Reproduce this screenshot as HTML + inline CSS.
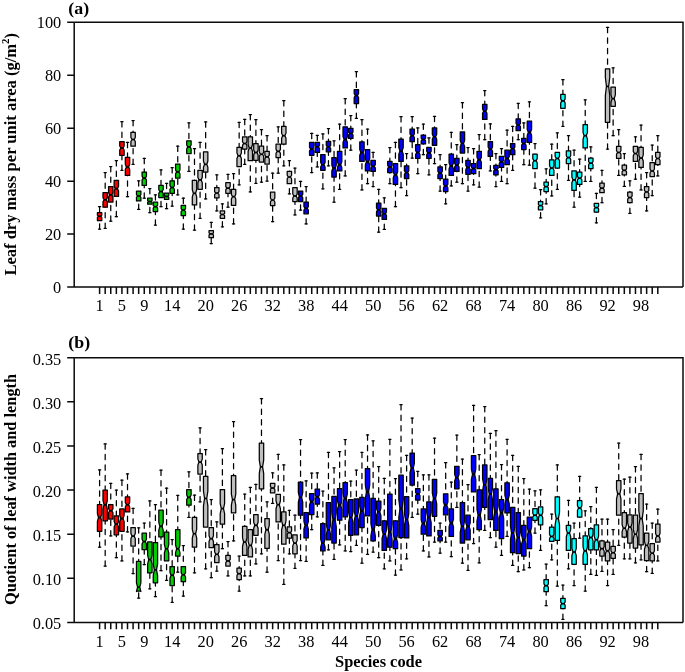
<!DOCTYPE html>
<html lang="en"><head><meta charset="utf-8"><title>Boxplots</title>
<style>html,body{margin:0;padding:0;background:#fff}body{width:685px;height:672px;overflow:hidden}svg{display:block}</style>
</head><body>
<svg width="685" height="672" viewBox="0 0 685 672">
<style>
.w{stroke:#000;stroke-width:1.25;stroke-dasharray:5.25 5.25;stroke-linecap:round;fill:none}
.c{stroke:#000;stroke-width:1.25;stroke-linecap:round;fill:none}
.b{stroke:#000;stroke-width:1.25;stroke-linejoin:round}
.m{stroke:#000;stroke-width:1.7;stroke-linecap:butt;fill:none}
.bx{stroke:#0a0a0a;stroke-width:1.5;fill:none}
.ax{stroke:#0a0a0a;stroke-width:1.5;fill:none;stroke-linecap:butt}
.t{font-family:"Liberation Serif",serif;font-size:16.8px;fill:#000}
.tb{font-family:"Liberation Serif",serif;font-size:16.8px;font-weight:bold;fill:#000}
</style>
<rect width="685" height="672" fill="#fff"/>
<g id="pa">
<path class="w" d="M99.6 206.7V212.72M99.6 229.02V220.54"/>
<path class="c" d="M98.5 206.7H100.7M98.5 229.02H100.7"/>
<path class="b" fill="#ff0000" d="M97.4 212.72L101.8 212.72L101.8 215.16L100.7 216.29L101.8 217.43L101.8 220.54L97.4 220.54L97.4 217.43L98.5 216.29L97.4 215.16Z"/>
<path class="m" d="M98.5 216.29H100.7"/>
<path class="w" d="M105.18 172.54V192.63M105.18 228.35V207.14"/>
<path class="c" d="M104.08 172.54H106.28M104.08 228.35H106.28"/>
<path class="b" fill="#ff0000" d="M102.98 192.63L107.38 192.63L107.38 197.67L106.28 199.78L107.38 201.88L107.38 207.14L102.98 207.14L102.98 201.88L104.08 199.78L102.98 197.67Z"/>
<path class="m" d="M104.08 199.78H106.28"/>
<path class="w" d="M110.76 166.52V186.61M110.76 221.21V202.01"/>
<path class="c" d="M109.66 166.52H111.86M109.66 221.21H111.86"/>
<path class="b" fill="#ff0000" d="M108.56 186.61L112.96 186.61L112.96 192.63L111.86 194.87L112.96 197.1L112.96 202.01L108.56 202.01L108.56 197.1L109.66 194.87L108.56 192.63Z"/>
<path class="m" d="M109.66 194.87H111.86"/>
<path class="w" d="M116.35 160.71V180.36M116.35 216.74V196.43"/>
<path class="c" d="M115.25 160.71H117.45M115.25 216.74H117.45"/>
<path class="b" fill="#ff0000" d="M114.15 180.36L118.55 180.36L118.55 186.29L117.45 188.62L118.55 190.95L118.55 196.43L114.15 196.43L114.15 190.95L115.25 188.62L114.15 186.29Z"/>
<path class="m" d="M115.25 188.62H117.45"/>
<path class="w" d="M121.93 121.65V141.74M121.93 170.31V155.36"/>
<path class="c" d="M120.83 121.65H123.03M120.83 170.31H123.03"/>
<path class="b" fill="#ff0000" d="M119.73 141.74L124.13 141.74L124.13 146.02L123.03 147.99L124.13 149.97L124.13 155.36L119.73 155.36L119.73 149.97L120.83 147.99L119.73 146.02Z"/>
<path class="m" d="M120.83 147.99H123.03"/>
<path class="w" d="M127.51 142.41V157.37M127.51 196.65V175.45"/>
<path class="c" d="M126.41 142.41H128.61M126.41 196.65H128.61"/>
<path class="b" fill="#ff0000" d="M125.31 157.37L129.71 157.37L129.71 164.34L128.61 166.96L129.71 169.59L129.71 175.45L125.31 175.45L125.31 169.59L126.41 166.96L125.31 164.34Z"/>
<path class="m" d="M126.41 166.96H128.61"/>
<path class="w" d="M133.09 120.54V132.37M133.09 164.29V146.21"/>
<path class="c" d="M131.99 120.54H134.19M131.99 164.29H134.19"/>
<path class="b" fill="#bebebe" d="M130.89 132.37L135.29 132.37L135.29 137.5L134.19 139.51L135.29 141.52L135.29 146.21L130.89 146.21L130.89 141.52L131.99 139.51L130.89 137.5Z"/>
<path class="m" d="M131.99 139.51H134.19"/>
<path class="w" d="M138.67 180.8V191.07M138.67 209.38V200.89"/>
<path class="c" d="M137.57 180.8H139.77M137.57 209.38H139.77"/>
<path class="b" fill="#00cd00" d="M136.47 191.07L140.87 191.07L140.87 194.56L139.77 195.98L140.87 197.41L140.87 200.89L136.47 200.89L136.47 197.41L137.57 195.98L136.47 194.56Z"/>
<path class="m" d="M137.57 195.98H139.77"/>
<path class="w" d="M144.26 158.48V172.1M144.26 198.21V185.49"/>
<path class="c" d="M143.16 158.48H145.36M143.16 198.21H145.36"/>
<path class="b" fill="#00cd00" d="M142.06 172.1L146.46 172.1L146.46 176.18L145.36 178.12L146.46 180.07L146.46 185.49L142.06 185.49L142.06 180.07L143.16 178.12L142.06 176.18Z"/>
<path class="m" d="M143.16 178.12H145.36"/>
<path class="w" d="M149.84 188.62V198.21M149.84 212.72V204.24"/>
<path class="c" d="M148.74 188.62H150.94M148.74 212.72H150.94"/>
<path class="b" fill="#00cd00" d="M147.64 198.21L152.04 198.21L152.04 200.69L150.94 201.56L152.04 202.44L152.04 204.24L147.64 204.24L147.64 202.44L148.74 201.56L147.64 200.69Z"/>
<path class="m" d="M148.74 201.56H150.94"/>
<path class="w" d="M155.42 194.87V202.23M155.42 225V211.61"/>
<path class="c" d="M154.32 194.87H156.52M154.32 225H156.52"/>
<path class="b" fill="#00cd00" d="M153.22 202.23L157.62 202.23L157.62 205.34L156.52 206.7L157.62 208.06L157.62 211.61L153.22 211.61L153.22 208.06L154.32 206.7L153.22 205.34Z"/>
<path class="m" d="M154.32 206.7H156.52"/>
<path class="w" d="M161 169.87V185.27M161 206.7V197.54"/>
<path class="c" d="M159.9 169.87H162.1M159.9 206.7H162.1"/>
<path class="b" fill="#00cd00" d="M158.8 185.27L163.2 185.27L163.2 189.74L162.1 191.52L163.2 193.3L163.2 197.54L158.8 197.54L158.8 193.3L159.9 191.52L158.8 189.74Z"/>
<path class="m" d="M159.9 191.52H162.1"/>
<path class="w" d="M166.58 183.26V193.08M166.58 208.71V199.33"/>
<path class="c" d="M165.48 183.26H167.68M165.48 208.71H167.68"/>
<path class="b" fill="#00cd00" d="M164.38 193.08L168.78 193.08L168.78 195.52L167.68 196.43L168.78 197.33L168.78 199.33L164.38 199.33L164.38 197.33L165.48 196.43L164.38 195.52Z"/>
<path class="m" d="M165.48 196.43H167.68"/>
<path class="w" d="M172.17 167.63V180.8M172.17 206.03V193.3"/>
<path class="c" d="M171.07 167.63H173.27M171.07 206.03H173.27"/>
<path class="b" fill="#00cd00" d="M169.97 180.8L174.37 180.8L174.37 185.69L173.27 187.5L174.37 189.31L174.37 193.3L169.97 193.3L169.97 189.31L171.07 187.5L169.97 185.69Z"/>
<path class="m" d="M171.07 187.5H173.27"/>
<path class="w" d="M177.75 146.21V164.06M177.75 194.87V178.12"/>
<path class="c" d="M176.65 146.21H178.85M176.65 194.87H178.85"/>
<path class="b" fill="#00cd00" d="M175.55 164.06L179.95 164.06L179.95 169.84L178.85 171.88L179.95 173.91L179.95 178.12L175.55 178.12L175.55 173.91L176.65 171.88L175.55 169.84Z"/>
<path class="m" d="M176.65 171.88H178.85"/>
<path class="w" d="M183.33 198.21V205.36M183.33 229.02V215.62"/>
<path class="c" d="M182.23 198.21H184.43M182.23 229.02H184.43"/>
<path class="b" fill="#00cd00" d="M181.13 205.36L185.53 205.36L185.53 208.56L184.43 210.04L185.53 211.53L185.53 215.62L181.13 215.62L181.13 211.53L182.23 210.04L181.13 208.56Z"/>
<path class="m" d="M182.23 210.04H184.43"/>
<path class="w" d="M188.91 122.77V140.85M188.91 171.43V153.57"/>
<path class="c" d="M187.81 122.77H190.01M187.81 171.43H190.01"/>
<path class="b" fill="#00cd00" d="M186.71 140.85L191.11 140.85L191.11 145.03L190.01 146.88L191.11 148.72L191.11 153.57L186.71 153.57L186.71 148.72L187.81 146.88L186.71 145.03Z"/>
<path class="m" d="M187.81 146.88H190.01"/>
<path class="w" d="M194.49 148.66V180.36M194.49 230.13V204.91"/>
<path class="c" d="M193.39 148.66H195.59M193.39 230.13H195.59"/>
<path class="b" fill="#bebebe" d="M192.29 180.36L196.69 180.36L196.69 189.74L195.59 193.3L196.69 196.86L196.69 204.91L192.29 204.91L192.29 196.86L193.39 193.3L192.29 189.74Z"/>
<path class="m" d="M193.39 193.3H195.59"/>
<path class="w" d="M200.08 142.41V170.31M200.08 218.3V189.29"/>
<path class="c" d="M198.98 142.41H201.18M198.98 218.3H201.18"/>
<path class="b" fill="#bebebe" d="M197.88 170.31L202.28 170.31L202.28 177.16L201.18 179.91L202.28 182.66L202.28 189.29L197.88 189.29L197.88 182.66L198.98 179.91L197.88 177.16Z"/>
<path class="m" d="M198.98 179.91H201.18"/>
<path class="w" d="M205.66 121.88V151.79M205.66 198.88V172.1"/>
<path class="c" d="M204.56 121.88H206.76M204.56 198.88H206.76"/>
<path class="b" fill="#bebebe" d="M203.46 151.79L207.86 151.79L207.86 161.34L206.76 164.29L207.86 167.23L207.86 172.1L203.46 172.1L203.46 167.23L204.56 164.29L203.46 161.34Z"/>
<path class="m" d="M204.56 164.29H206.76"/>
<path class="w" d="M211.24 222.32V230.58M211.24 243.53V237.72"/>
<path class="c" d="M210.14 222.32H212.34M210.14 243.53H212.34"/>
<path class="b" fill="#bebebe" d="M209.04 230.58L213.44 230.58L213.44 232.89L212.34 233.93L213.44 234.96L213.44 237.72L209.04 237.72L209.04 234.96L210.14 233.93L209.04 232.89Z"/>
<path class="m" d="M210.14 233.93H212.34"/>
<path class="w" d="M216.82 174.78V187.5M216.82 210.94V197.77"/>
<path class="c" d="M215.72 174.78H217.92M215.72 210.94H217.92"/>
<path class="b" fill="#bebebe" d="M214.62 187.5L219.02 187.5L219.02 191.59L217.92 193.08L219.02 194.57L219.02 197.77L214.62 197.77L214.62 194.57L215.72 193.08L214.62 191.59Z"/>
<path class="m" d="M215.72 193.08H217.92"/>
<path class="w" d="M222.4 203.79V210.94M222.4 226.79V218.3"/>
<path class="c" d="M221.3 203.79H223.5M221.3 226.79H223.5"/>
<path class="b" fill="#bebebe" d="M220.2 210.94L224.6 210.94L224.6 213.44L223.5 214.51L224.6 215.58L224.6 218.3L220.2 218.3L220.2 215.58L221.3 214.51L220.2 213.44Z"/>
<path class="m" d="M221.3 214.51H223.5"/>
<path class="w" d="M227.99 174.33V182.59M227.99 207.14V193.3"/>
<path class="c" d="M226.89 174.33H229.09M226.89 207.14H229.09"/>
<path class="b" fill="#bebebe" d="M225.79 182.59L230.19 182.59L230.19 186.62L229.09 188.17L230.19 189.72L230.19 193.3L225.79 193.3L225.79 189.72L226.89 188.17L225.79 186.62Z"/>
<path class="m" d="M226.89 188.17H229.09"/>
<path class="w" d="M233.57 173.66V189.29M233.57 223.88V205.36"/>
<path class="c" d="M232.47 173.66H234.67M232.47 223.88H234.67"/>
<path class="b" fill="#bebebe" d="M231.37 189.29L235.77 189.29L235.77 194.32L234.67 196.65L235.77 198.98L235.77 205.36L231.37 205.36L231.37 198.98L232.47 196.65L231.37 194.32Z"/>
<path class="m" d="M232.47 196.65H234.67"/>
<path class="w" d="M239.15 122.32V147.32M239.15 184.82V166.52"/>
<path class="c" d="M238.05 122.32H240.25M238.05 184.82H240.25"/>
<path class="b" fill="#bebebe" d="M236.95 147.32L241.35 147.32L241.35 153.02L240.25 155.8L241.35 158.59L241.35 166.52L236.95 166.52L236.95 158.59L238.05 155.8L236.95 153.02Z"/>
<path class="m" d="M238.05 155.8H240.25"/>
<path class="w" d="M244.73 119.42V136.83M244.73 164.29V149.11"/>
<path class="c" d="M243.63 119.42H245.83M243.63 164.29H245.83"/>
<path class="b" fill="#bebebe" d="M242.53 136.83L246.93 136.83L246.93 141.75L245.83 143.53L246.93 145.31L246.93 149.11L242.53 149.11L242.53 145.31L243.63 143.53L242.53 141.75Z"/>
<path class="m" d="M243.63 143.53H245.83"/>
<path class="w" d="M250.31 114.51V136.83M250.31 191.96V160.71"/>
<path class="c" d="M249.21 114.51H251.41M249.21 191.96H251.41"/>
<path class="b" fill="#bebebe" d="M248.11 136.83L252.51 136.83L252.51 144.53L251.41 147.99L252.51 151.45L252.51 160.71L248.11 160.71L248.11 151.45L249.21 147.99L248.11 144.53Z"/>
<path class="m" d="M249.21 147.99H251.41"/>
<path class="w" d="M255.9 119.64V143.53M255.9 183.26V160.27"/>
<path class="c" d="M254.8 119.64H257M254.8 183.26H257"/>
<path class="b" fill="#bebebe" d="M253.7 143.53L258.1 143.53L258.1 150.03L257 152.46L258.1 154.88L258.1 160.27L253.7 160.27L253.7 154.88L254.8 152.46L253.7 150.03Z"/>
<path class="m" d="M254.8 152.46H257"/>
<path class="w" d="M261.48 129.69V146.21M261.48 182.14V162.05"/>
<path class="c" d="M260.38 129.69H262.58M260.38 182.14H262.58"/>
<path class="b" fill="#bebebe" d="M259.28 146.21L263.68 146.21L263.68 151.94L262.58 154.24L263.68 156.54L263.68 162.05L259.28 162.05L259.28 156.54L260.38 154.24L259.28 151.94Z"/>
<path class="m" d="M260.38 154.24H262.58"/>
<path class="w" d="M267.06 135.71V151.34M267.06 181.03V164.06"/>
<path class="c" d="M265.96 135.71H268.16M265.96 181.03H268.16"/>
<path class="b" fill="#bebebe" d="M264.86 151.34L269.26 151.34L269.26 155.07L268.16 156.92L269.26 158.76L269.26 164.06L264.86 164.06L264.86 158.76L265.96 156.92L264.86 155.07Z"/>
<path class="m" d="M265.96 156.92H268.16"/>
<path class="w" d="M272.64 173.21V192.19M272.64 221.65V205.58"/>
<path class="c" d="M271.54 173.21H273.74M271.54 221.65H273.74"/>
<path class="b" fill="#bebebe" d="M270.44 192.19L274.84 192.19L274.84 198.06L273.74 200L274.84 201.94L274.84 205.58L270.44 205.58L270.44 201.94L271.54 200L270.44 198.06Z"/>
<path class="m" d="M271.54 200H273.74"/>
<path class="w" d="M278.22 126.79V144.2M278.22 173.21V157.59"/>
<path class="c" d="M277.12 126.79H279.32M277.12 173.21H279.32"/>
<path class="b" fill="#bebebe" d="M276.02 144.2L280.42 144.2L280.42 149.4L279.32 151.34L280.42 153.28L280.42 157.59L276.02 157.59L276.02 153.28L277.12 151.34L276.02 149.4Z"/>
<path class="m" d="M277.12 151.34H279.32"/>
<path class="w" d="M283.81 100.67V126.34M283.81 165.85V144.2"/>
<path class="c" d="M282.71 100.67H284.91M282.71 165.85H284.91"/>
<path class="b" fill="#bebebe" d="M281.61 126.34L286.01 126.34L286.01 133.12L284.91 135.71L286.01 138.3L286.01 144.2L281.61 144.2L281.61 138.3L282.71 135.71L281.61 133.12Z"/>
<path class="m" d="M282.71 135.71H284.91"/>
<path class="w" d="M289.39 160.71V171.43M289.39 193.75V183.71"/>
<path class="c" d="M288.29 160.71H290.49M288.29 193.75H290.49"/>
<path class="b" fill="#bebebe" d="M287.19 171.43L291.59 171.43L291.59 175.23L290.49 177.01L291.59 178.79L291.59 183.71L287.19 183.71L287.19 178.79L288.29 177.01L287.19 175.23Z"/>
<path class="m" d="M288.29 177.01H290.49"/>
<path class="w" d="M294.97 168.08V187.5M294.97 214.96V201.56"/>
<path class="c" d="M293.87 168.08H296.07M293.87 214.96H296.07"/>
<path class="b" fill="#bebebe" d="M292.77 187.5L297.17 187.5L297.17 193.94L296.07 195.98L297.17 198.02L297.17 201.56L292.77 201.56L292.77 198.02L293.87 195.98L292.77 193.94Z"/>
<path class="m" d="M293.87 195.98H296.07"/>
<path class="w" d="M300.55 181.47V191.07M300.55 210.04V201.56"/>
<path class="c" d="M299.45 181.47H301.65M299.45 210.04H301.65"/>
<path class="b" fill="#0000ff" d="M298.35 191.07L302.75 191.07L302.75 194.46L301.65 195.98L302.75 197.5L302.75 201.56L298.35 201.56L298.35 197.5L299.45 195.98L298.35 194.46Z"/>
<path class="m" d="M299.45 195.98H301.65"/>
<path class="w" d="M306.13 186.61V202.01M306.13 223.88V213.84"/>
<path class="c" d="M305.03 186.61H307.23M305.03 223.88H307.23"/>
<path class="b" fill="#0000ff" d="M303.93 202.01L308.33 202.01L308.33 206.54L307.23 208.26L308.33 209.97L308.33 213.84L303.93 213.84L303.93 209.97L305.03 208.26L303.93 206.54Z"/>
<path class="m" d="M305.03 208.26H307.23"/>
<path class="w" d="M311.72 133.48V142.41M311.72 172.54V155.36"/>
<path class="c" d="M310.62 133.48H312.82M310.62 172.54H312.82"/>
<path class="b" fill="#0000ff" d="M309.52 142.41L313.92 142.41L313.92 147.23L312.82 149.11L313.92 150.98L313.92 155.36L309.52 155.36L309.52 150.98L310.62 149.11L309.52 147.23Z"/>
<path class="m" d="M310.62 149.11H312.82"/>
<path class="w" d="M317.3 135.27V142.41M317.3 166.96V152.46"/>
<path class="c" d="M316.2 135.27H318.4M316.2 166.96H318.4"/>
<path class="b" fill="#0000ff" d="M315.1 142.41L319.5 142.41L319.5 145.42L318.4 146.88L319.5 148.33L319.5 152.46L315.1 152.46L315.1 148.33L316.2 146.88L315.1 145.42Z"/>
<path class="m" d="M316.2 146.88H318.4"/>
<path class="w" d="M322.88 133.93V154.69M322.88 188.84V170.31"/>
<path class="c" d="M321.78 133.93H323.98M321.78 188.84H323.98"/>
<path class="b" fill="#0000ff" d="M320.68 154.69L325.08 154.69L325.08 162.47L323.98 164.73L325.08 167L325.08 170.31L320.68 170.31L320.68 167L321.78 164.73L320.68 162.47Z"/>
<path class="m" d="M321.78 164.73H323.98"/>
<path class="w" d="M328.46 128.57V141.29M328.46 165.85V151.79"/>
<path class="c" d="M327.36 128.57H329.56M327.36 165.85H329.56"/>
<path class="b" fill="#0000ff" d="M326.26 141.29L330.66 141.29L330.66 145.35L329.56 146.88L330.66 148.4L330.66 151.79L326.26 151.79L326.26 148.4L327.36 146.88L326.26 145.35Z"/>
<path class="m" d="M327.36 146.88H329.56"/>
<path class="w" d="M334.04 140.85V157.59M334.04 202.23V177.01"/>
<path class="c" d="M332.94 140.85H335.14M332.94 202.23H335.14"/>
<path class="b" fill="#0000ff" d="M331.84 157.59L336.24 157.59L336.24 165.26L335.14 168.08L336.24 170.9L336.24 177.01L331.84 177.01L331.84 170.9L332.94 168.08L331.84 165.26Z"/>
<path class="m" d="M332.94 168.08H335.14"/>
<path class="w" d="M339.63 124.11V151.34M339.63 189.29V170.98"/>
<path class="c" d="M338.53 124.11H340.73M338.53 189.29H340.73"/>
<path class="b" fill="#0000ff" d="M337.43 151.34L341.83 151.34L341.83 161.88L340.73 164.73L341.83 167.58L341.83 170.98L337.43 170.98L337.43 167.58L338.53 164.73L337.43 161.88Z"/>
<path class="m" d="M338.53 164.73H340.73"/>
<path class="w" d="M345.21 98.66V126.79M345.21 175.89V147.99"/>
<path class="c" d="M344.11 98.66H346.31M344.11 175.89H346.31"/>
<path class="b" fill="#0000ff" d="M343.01 126.79L347.41 126.79L347.41 136.43L346.31 139.51L347.41 142.58L347.41 147.99L343.01 147.99L343.01 142.58L344.11 139.51L343.01 136.43Z"/>
<path class="m" d="M344.11 139.51H346.31"/>
<path class="w" d="M350.79 115.62V128.35M350.79 150.22V138.39"/>
<path class="c" d="M349.69 115.62H351.89M349.69 150.22H351.89"/>
<path class="b" fill="#0000ff" d="M348.59 128.35L352.99 128.35L352.99 132.03L351.89 133.48L352.99 134.94L352.99 138.39L348.59 138.39L348.59 134.94L349.69 133.48L348.59 132.03Z"/>
<path class="m" d="M349.69 133.48H351.89"/>
<path class="w" d="M356.37 71.65V89.51M356.37 118.3V103.57"/>
<path class="c" d="M355.27 71.65H357.47M355.27 118.3H357.47"/>
<path class="b" fill="#0000ff" d="M354.17 89.51L358.57 89.51L358.57 93.5L357.47 95.54L358.57 97.57L358.57 103.57L354.17 103.57L354.17 97.57L355.27 95.54L354.17 93.5Z"/>
<path class="m" d="M355.27 95.54H357.47"/>
<path class="w" d="M361.95 119.64V141.96M361.95 189.96V161.38"/>
<path class="c" d="M360.85 119.64H363.05M360.85 189.96H363.05"/>
<path class="b" fill="#0000ff" d="M359.75 141.96L364.15 141.96L364.15 149.64L363.05 152.46L364.15 155.27L364.15 161.38L359.75 161.38L359.75 155.27L360.85 152.46L359.75 149.64Z"/>
<path class="m" d="M360.85 152.46H363.05"/>
<path class="w" d="M367.54 129.02V149.55M367.54 183.71V170.98"/>
<path class="c" d="M366.44 129.02H368.64M366.44 183.71H368.64"/>
<path class="b" fill="#0000ff" d="M365.34 149.55L369.74 149.55L369.74 158.72L368.64 161.83L369.74 164.94L369.74 170.98L365.34 170.98L365.34 164.94L366.44 161.83L365.34 158.72Z"/>
<path class="m" d="M366.44 161.83H368.64"/>
<path class="w" d="M373.12 152.46V160.27M373.12 186.61V171.43"/>
<path class="c" d="M372.02 152.46H374.22M372.02 186.61H374.22"/>
<path class="b" fill="#0000ff" d="M370.92 160.27L375.32 160.27L375.32 164.68L374.22 166.29L375.32 167.91L375.32 171.43L370.92 171.43L370.92 167.91L372.02 166.29L370.92 164.68Z"/>
<path class="m" d="M372.02 166.29H374.22"/>
<path class="w" d="M378.7 189.29V203.12M378.7 232.14V216.07"/>
<path class="c" d="M377.6 189.29H379.8M377.6 232.14H379.8"/>
<path class="b" fill="#0000ff" d="M376.5 203.12L380.9 203.12L380.9 207.94L379.8 209.82L380.9 211.7L380.9 216.07L376.5 216.07L376.5 211.7L377.6 209.82L376.5 207.94Z"/>
<path class="m" d="M377.6 209.82H379.8"/>
<path class="w" d="M384.28 197.77V208.26M384.28 229.46V219.42"/>
<path class="c" d="M383.18 197.77H385.38M383.18 229.46H385.38"/>
<path class="b" fill="#0000ff" d="M382.08 208.26L386.48 208.26L386.48 212.22L385.38 213.84L386.48 215.46L386.48 219.42L382.08 219.42L382.08 215.46L383.18 213.84L382.08 212.22Z"/>
<path class="m" d="M383.18 213.84H385.38"/>
<path class="w" d="M389.86 147.54V161.38M389.86 183.71V172.54"/>
<path class="c" d="M388.76 147.54H390.96M388.76 183.71H390.96"/>
<path class="b" fill="#0000ff" d="M387.66 161.38L392.06 161.38L392.06 165.35L390.96 166.96L392.06 168.58L392.06 172.54L387.66 172.54L387.66 168.58L388.76 166.96L387.66 165.35Z"/>
<path class="m" d="M388.76 166.96H390.96"/>
<path class="w" d="M395.45 142.41V163.62M395.45 206.7V184.38"/>
<path class="c" d="M394.35 142.41H396.55M394.35 206.7H396.55"/>
<path class="b" fill="#0000ff" d="M393.25 163.62L397.65 163.62L397.65 171.77L396.55 174.78L397.65 177.79L397.65 184.38L393.25 184.38L393.25 177.79L394.35 174.78L393.25 171.77Z"/>
<path class="m" d="M394.35 174.78H396.55"/>
<path class="w" d="M401.03 116.74V139.06M401.03 187.72V161.38"/>
<path class="c" d="M399.93 116.74H402.13M399.93 187.72H402.13"/>
<path class="b" fill="#0000ff" d="M398.83 139.06L403.23 139.06L403.23 147.66L402.13 150.89L403.23 154.13L403.23 161.38L398.83 161.38L398.83 154.13L399.93 150.89L398.83 147.66Z"/>
<path class="m" d="M399.93 150.89H402.13"/>
<path class="w" d="M406.61 153.57V165.85M406.61 195.54V178.57"/>
<path class="c" d="M405.51 153.57H407.71M405.51 195.54H407.71"/>
<path class="b" fill="#0000ff" d="M404.41 165.85L408.81 165.85L408.81 170.7L407.71 172.54L408.81 174.39L408.81 178.57L404.41 178.57L404.41 174.39L405.51 172.54L404.41 170.7Z"/>
<path class="m" d="M405.51 172.54H407.71"/>
<path class="w" d="M412.19 116.74V129.02M412.19 158.04V141.74"/>
<path class="c" d="M411.09 116.74H413.29M411.09 158.04H413.29"/>
<path class="b" fill="#0000ff" d="M409.99 129.02L414.39 129.02L414.39 133.87L413.29 135.71L414.39 137.56L414.39 141.74L409.99 141.74L409.99 137.56L411.09 135.71L409.99 133.87Z"/>
<path class="m" d="M411.09 135.71H413.29"/>
<path class="w" d="M417.77 127.9V144.64M417.77 173.66V158.48"/>
<path class="c" d="M416.67 127.9H418.87M416.67 173.66H418.87"/>
<path class="b" fill="#0000ff" d="M415.57 144.64L419.97 144.64L419.97 150.45L418.87 152.46L419.97 154.46L419.97 158.48L415.57 158.48L415.57 154.46L416.67 152.46L415.57 150.45Z"/>
<path class="m" d="M416.67 152.46H418.87"/>
<path class="w" d="M423.36 124.11V135.04M423.36 154.69V143.97"/>
<path class="c" d="M422.26 124.11H424.46M422.26 154.69H424.46"/>
<path class="b" fill="#0000ff" d="M421.16 135.04L425.56 135.04L425.56 138.21L424.46 139.51L425.56 140.8L425.56 143.97L421.16 143.97L421.16 140.8L422.26 139.51L421.16 138.21Z"/>
<path class="m" d="M422.26 139.51H424.46"/>
<path class="w" d="M428.94 137.95V147.32M428.94 174.78V158.48"/>
<path class="c" d="M427.84 137.95H430.04M427.84 174.78H430.04"/>
<path class="b" fill="#0000ff" d="M426.74 147.32L431.14 147.32L431.14 151.28L430.04 152.9L431.14 154.52L431.14 158.48L426.74 158.48L426.74 154.52L427.84 152.9L426.74 151.28Z"/>
<path class="m" d="M427.84 152.9H430.04"/>
<path class="w" d="M434.52 116.29V127.9M434.52 163.62V145.31"/>
<path class="c" d="M433.42 116.29H435.62M433.42 163.62H435.62"/>
<path class="b" fill="#0000ff" d="M432.32 127.9L436.72 127.9L436.72 134.31L435.62 136.83L436.72 139.35L436.72 145.31L432.32 145.31L432.32 139.35L433.42 136.83L432.32 134.31Z"/>
<path class="m" d="M433.42 136.83H435.62"/>
<path class="w" d="M440.1 154.69V166.96M440.1 191.07V178.57"/>
<path class="c" d="M439 154.69H441.2M439 191.07H441.2"/>
<path class="b" fill="#0000ff" d="M437.9 166.96L442.3 166.96L442.3 171.53L441.2 173.21L442.3 174.9L442.3 178.57L437.9 178.57L437.9 174.9L439 173.21L437.9 171.53Z"/>
<path class="m" d="M439 173.21H441.2"/>
<path class="w" d="M445.68 164.73V179.24M445.68 203.79V191.52"/>
<path class="c" d="M444.58 164.73H446.78M444.58 203.79H446.78"/>
<path class="b" fill="#0000ff" d="M443.48 179.24L447.88 179.24L447.88 184.16L446.78 185.94L447.88 187.72L447.88 191.52L443.48 191.52L443.48 187.72L444.58 185.94L443.48 184.16Z"/>
<path class="m" d="M444.58 185.94H446.78"/>
<path class="w" d="M451.27 132.37V154.02M451.27 185.94V175.45"/>
<path class="c" d="M450.17 132.37H452.37M450.17 185.94H452.37"/>
<path class="b" fill="#0000ff" d="M449.07 154.02L453.47 154.02L453.47 162.74L452.37 165.85L453.47 168.96L453.47 175.45L449.07 175.45L449.07 168.96L450.17 165.85L449.07 162.74Z"/>
<path class="m" d="M450.17 165.85H452.37"/>
<path class="w" d="M456.85 144.64V158.48M456.85 182.14V171.43"/>
<path class="c" d="M455.75 144.64H457.95M455.75 182.14H457.95"/>
<path class="b" fill="#0000ff" d="M454.65 158.48L459.05 158.48L459.05 163.3L457.95 165.18L459.05 167.06L459.05 171.43L454.65 171.43L454.65 167.06L455.75 165.18L454.65 163.3Z"/>
<path class="m" d="M455.75 165.18H457.95"/>
<path class="w" d="M462.43 102.68V131.92M462.43 183.71V153.12"/>
<path class="c" d="M461.33 102.68H463.53M461.33 183.71H463.53"/>
<path class="b" fill="#0000ff" d="M460.23 131.92L464.63 131.92L464.63 140.45L463.53 143.53L464.63 146.6L464.63 153.12L460.23 153.12L460.23 146.6L461.33 143.53L460.23 140.45Z"/>
<path class="m" d="M461.33 143.53H463.53"/>
<path class="w" d="M468.01 147.54V160.27M468.01 191.07V174.33"/>
<path class="c" d="M466.91 147.54H469.11M466.91 191.07H469.11"/>
<path class="b" fill="#0000ff" d="M465.81 160.27L470.21 160.27L470.21 165.37L469.11 167.41L470.21 169.45L470.21 174.33L465.81 174.33L465.81 169.45L466.91 167.41L465.81 165.37Z"/>
<path class="m" d="M466.91 167.41H469.11"/>
<path class="w" d="M473.59 148.66V163.62M473.59 184.82V173.66"/>
<path class="c" d="M472.49 148.66H474.69M472.49 184.82H474.69"/>
<path class="b" fill="#0000ff" d="M471.39 163.62L475.79 163.62L475.79 167.07L474.69 168.53L475.79 169.98L475.79 173.66L471.39 173.66L471.39 169.98L472.49 168.53L471.39 167.07Z"/>
<path class="m" d="M472.49 168.53H474.69"/>
<path class="w" d="M479.18 134.6V151.34M479.18 187.05V168.53"/>
<path class="c" d="M478.08 134.6H480.28M478.08 187.05H480.28"/>
<path class="b" fill="#0000ff" d="M476.98 151.34L481.38 151.34L481.38 157.33L480.28 159.82L481.38 162.31L481.38 168.53L476.98 168.53L476.98 162.31L478.08 159.82L476.98 157.33Z"/>
<path class="m" d="M478.08 159.82H480.28"/>
<path class="w" d="M484.76 90.62V104.46M484.76 139.73V119.42"/>
<path class="c" d="M483.66 90.62H485.86M483.66 139.73H485.86"/>
<path class="b" fill="#0000ff" d="M482.56 104.46L486.96 104.46L486.96 108.99L485.86 111.16L486.96 113.33L486.96 119.42L482.56 119.42L482.56 113.33L483.66 111.16L482.56 108.99Z"/>
<path class="m" d="M483.66 111.16H485.86"/>
<path class="w" d="M490.34 123.88V141.74M490.34 170.98V156.47"/>
<path class="c" d="M489.24 123.88H491.44M489.24 170.98H491.44"/>
<path class="b" fill="#0000ff" d="M488.14 141.74L492.54 141.74L492.54 146.97L491.44 149.11L492.54 151.24L492.54 156.47L488.14 156.47L488.14 151.24L489.24 149.11L488.14 146.97Z"/>
<path class="m" d="M489.24 149.11H491.44"/>
<path class="w" d="M495.92 153.57V165.4M495.92 186.61V174.78"/>
<path class="c" d="M494.82 153.57H497.02M494.82 186.61H497.02"/>
<path class="b" fill="#0000ff" d="M493.72 165.4L498.12 165.4L498.12 168.28L497.02 169.64L498.12 171L498.12 174.78L493.72 174.78L493.72 171L494.82 169.64L493.72 168.28Z"/>
<path class="m" d="M494.82 169.64H497.02"/>
<path class="w" d="M501.5 148.66V156.25M501.5 181.47V167.41"/>
<path class="c" d="M500.4 148.66H502.6M500.4 181.47H502.6"/>
<path class="b" fill="#0000ff" d="M499.3 156.25L503.7 156.25L503.7 160.21L502.6 161.83L503.7 163.45L503.7 167.41L499.3 167.41L499.3 163.45L500.4 161.83L499.3 160.21Z"/>
<path class="m" d="M500.4 161.83H502.6"/>
<path class="w" d="M507.09 130.13V150.22M507.09 183.71V164.73"/>
<path class="c" d="M505.99 130.13H508.19M505.99 183.71H508.19"/>
<path class="b" fill="#0000ff" d="M504.89 150.22L509.29 150.22L509.29 156.38L508.19 158.48L509.29 160.59L509.29 164.73L504.89 164.73L504.89 160.59L505.99 158.48L504.89 156.38Z"/>
<path class="m" d="M505.99 158.48H508.19"/>
<path class="w" d="M512.67 126.34V143.53M512.67 170.31V154.69"/>
<path class="c" d="M511.57 126.34H513.77M511.57 170.31H513.77"/>
<path class="b" fill="#0000ff" d="M510.47 143.53L514.87 143.53L514.87 147.04L513.77 148.66L514.87 150.28L514.87 154.69L510.47 154.69L510.47 150.28L511.57 148.66L510.47 147.04Z"/>
<path class="m" d="M511.57 148.66H513.77"/>
<path class="w" d="M518.25 103.35V118.97M518.25 139.73V130.58"/>
<path class="c" d="M517.15 103.35H519.35M517.15 139.73H519.35"/>
<path class="b" fill="#0000ff" d="M516.05 118.97L520.45 118.97L520.45 123.32L519.35 125L520.45 126.68L520.45 130.58L516.05 130.58L516.05 126.68L517.15 125L516.05 123.32Z"/>
<path class="m" d="M517.15 125H519.35"/>
<path class="w" d="M523.83 122.99V138.39M523.83 164.73V149.55"/>
<path class="c" d="M522.73 122.99H524.93M522.73 164.73H524.93"/>
<path class="b" fill="#0000ff" d="M521.63 138.39L526.03 138.39L526.03 141.91L524.93 143.53L526.03 145.15L526.03 149.55L521.63 149.55L521.63 145.15L522.73 143.53L521.63 141.91Z"/>
<path class="m" d="M522.73 143.53H524.93"/>
<path class="w" d="M529.41 101.79V121.21M529.41 165.18V142.41"/>
<path class="c" d="M528.31 101.79H530.51M528.31 165.18H530.51"/>
<path class="b" fill="#0000ff" d="M527.21 121.21L531.61 121.21L531.61 129.29L530.51 132.37L531.61 135.44L531.61 142.41L527.21 142.41L527.21 135.44L528.31 132.37L527.21 129.29Z"/>
<path class="m" d="M528.31 132.37H530.51"/>
<path class="w" d="M535 143.53V154.24M535 188.17V168.53"/>
<path class="c" d="M533.9 143.53H536.1M533.9 188.17H536.1"/>
<path class="b" fill="#00ffff" d="M532.8 154.24L537.2 154.24L537.2 158.64L536.1 160.71L537.2 162.79L537.2 168.53L532.8 168.53L532.8 162.79L533.9 160.71L532.8 158.64Z"/>
<path class="m" d="M533.9 160.71H536.1"/>
<path class="w" d="M540.58 189.73V201.56M540.58 217.86V209.82"/>
<path class="c" d="M539.48 189.73H541.68M539.48 217.86H541.68"/>
<path class="b" fill="#00ffff" d="M538.38 201.56L542.78 201.56L542.78 204.38L541.68 205.58L542.78 206.78L542.78 209.82L538.38 209.82L538.38 206.78L539.48 205.58L538.38 204.38Z"/>
<path class="m" d="M539.48 205.58H541.68"/>
<path class="w" d="M546.16 168.75V182.14M546.16 203.79V191.52"/>
<path class="c" d="M545.06 168.75H547.26M545.06 203.79H547.26"/>
<path class="b" fill="#00ffff" d="M543.96 182.14L548.36 182.14L548.36 185.25L547.26 186.61L548.36 187.97L548.36 191.52L543.96 191.52L543.96 187.97L545.06 186.61L543.96 185.25Z"/>
<path class="m" d="M545.06 186.61H547.26"/>
<path class="w" d="M551.74 144.2V159.82M551.74 195.98V175.45"/>
<path class="c" d="M550.64 144.2H552.84M550.64 195.98H552.84"/>
<path class="b" fill="#00ffff" d="M549.54 159.82L553.94 159.82L553.94 165.81L552.84 168.08L553.94 170.35L553.94 175.45L549.54 175.45L549.54 170.35L550.64 168.08L549.54 165.81Z"/>
<path class="m" d="M550.64 168.08H552.84"/>
<path class="w" d="M557.32 132.81V152.46M557.32 189.29V168.08"/>
<path class="c" d="M556.22 132.81H558.42M556.22 189.29H558.42"/>
<path class="b" fill="#00ffff" d="M555.12 152.46L559.52 152.46L559.52 156.22L558.42 158.48L559.52 160.75L559.52 168.08L555.12 168.08L555.12 160.75L556.22 158.48L555.12 156.22Z"/>
<path class="m" d="M556.22 158.48H558.42"/>
<path class="w" d="M562.91 79.69V94.42M562.91 126.34V108.26"/>
<path class="c" d="M561.81 79.69H564.01M561.81 126.34H564.01"/>
<path class="b" fill="#00ffff" d="M560.71 94.42L565.11 94.42L565.11 98.89L564.01 100.89L565.11 102.9L565.11 108.26L560.71 108.26L560.71 102.9L561.81 100.89L560.71 98.89Z"/>
<path class="m" d="M561.81 100.89H564.01"/>
<path class="w" d="M568.49 135.71V150.89M568.49 180.36V163.62"/>
<path class="c" d="M567.39 135.71H569.59M567.39 180.36H569.59"/>
<path class="b" fill="#00ffff" d="M566.29 150.89L570.69 150.89L570.69 155.74L569.59 157.59L570.69 159.43L570.69 163.62L566.29 163.62L566.29 159.43L567.39 157.59L566.29 155.74Z"/>
<path class="m" d="M567.39 157.59H569.59"/>
<path class="w" d="M574.07 150.22V170.98M574.07 207.14V190.4"/>
<path class="c" d="M572.97 150.22H575.17M572.97 207.14H575.17"/>
<path class="b" fill="#00ffff" d="M571.87 170.98L576.27 170.98L576.27 177.09L575.17 179.91L576.27 182.73L576.27 190.4L571.87 190.4L571.87 182.73L572.97 179.91L571.87 177.09Z"/>
<path class="m" d="M572.97 179.91H575.17"/>
<path class="w" d="M579.65 159.15V172.1M579.65 197.1V184.38"/>
<path class="c" d="M578.55 159.15H580.75M578.55 197.1H580.75"/>
<path class="b" fill="#00ffff" d="M577.45 172.1L581.85 172.1L581.85 176.34L580.75 178.12L581.85 179.91L581.85 184.38L577.45 184.38L577.45 179.91L578.55 178.12L577.45 176.34Z"/>
<path class="m" d="M578.55 178.12H580.75"/>
<path class="w" d="M585.23 99.78V124.55M585.23 181.47V147.99"/>
<path class="c" d="M584.13 99.78H586.33M584.13 181.47H586.33"/>
<path class="b" fill="#00ffff" d="M583.03 124.55L587.43 124.55L587.43 132.32L586.33 135.71L587.43 139.11L587.43 147.99L583.03 147.99L583.03 139.11L584.13 135.71L583.03 132.32Z"/>
<path class="m" d="M584.13 135.71H586.33"/>
<path class="w" d="M590.82 146.88V158.04M590.82 181.47V168.53"/>
<path class="c" d="M589.72 146.88H591.92M589.72 181.47H591.92"/>
<path class="b" fill="#00ffff" d="M588.62 158.04L593.02 158.04L593.02 161.65L591.92 163.17L593.02 164.69L593.02 168.53L588.62 168.53L588.62 164.69L589.72 163.17L588.62 161.65Z"/>
<path class="m" d="M589.72 163.17H591.92"/>
<path class="w" d="M596.4 193.3V203.35M596.4 222.77V212.05"/>
<path class="c" d="M595.3 193.3H597.5M595.3 222.77H597.5"/>
<path class="b" fill="#00ffff" d="M594.2 203.35L598.6 203.35L598.6 206.33L597.5 207.59L598.6 208.85L598.6 212.05L594.2 212.05L594.2 208.85L595.3 207.59L594.2 206.33Z"/>
<path class="m" d="M595.3 207.59H597.5"/>
<path class="w" d="M601.98 170.31V183.04M601.98 202.68V192.63"/>
<path class="c" d="M600.88 170.31H603.08M600.88 202.68H603.08"/>
<path class="b" fill="#bebebe" d="M599.78 183.04L604.18 183.04L604.18 186.78L603.08 188.17L604.18 189.56L604.18 192.63L599.78 192.63L599.78 189.56L600.88 188.17L599.78 186.78Z"/>
<path class="m" d="M600.88 188.17H603.08"/>
<path class="w" d="M607.56 27.46V68.75M607.56 149.11V122.32"/>
<path class="c" d="M606.46 27.46H608.66M606.46 149.11H608.66"/>
<path class="b" fill="#bebebe" d="M605.36 68.75L609.76 68.75L609.76 77.54L608.66 86.38L609.76 95.22L609.76 122.32L605.36 122.32L605.36 95.22L606.46 86.38L605.36 77.54Z"/>
<path class="m" d="M606.46 86.38H608.66"/>
<path class="w" d="M613.14 67.86V87.05M613.14 135.71V106.25"/>
<path class="c" d="M612.04 67.86H614.24M612.04 135.71H614.24"/>
<path class="b" fill="#bebebe" d="M610.94 87.05L615.34 87.05L615.34 94.82L614.24 98.66L615.34 102.5L615.34 106.25L610.94 106.25L610.94 102.5L612.04 98.66L610.94 94.82Z"/>
<path class="m" d="M612.04 98.66H614.24"/>
<path class="w" d="M618.73 129.69V146.43M618.73 175.45V158.48"/>
<path class="c" d="M617.63 129.69H619.83M617.63 175.45H619.83"/>
<path class="b" fill="#bebebe" d="M616.53 146.43L620.93 146.43L620.93 150.71L619.83 152.46L620.93 154.2L620.93 158.48L616.53 158.48L616.53 154.2L617.63 152.46L616.53 150.71Z"/>
<path class="m" d="M617.63 152.46H619.83"/>
<path class="w" d="M624.31 153.57V165.18M624.31 186.38V174.78"/>
<path class="c" d="M623.21 153.57H625.41M623.21 186.38H625.41"/>
<path class="b" fill="#bebebe" d="M622.11 165.18L626.51 165.18L626.51 168.92L625.41 170.31L626.51 171.7L626.51 174.78L622.11 174.78L622.11 171.7L623.21 170.31L622.11 168.92Z"/>
<path class="m" d="M623.21 170.31H625.41"/>
<path class="w" d="M629.89 180.8V192.19M629.89 213.39V202.68"/>
<path class="c" d="M628.79 180.8H630.99M628.79 213.39H630.99"/>
<path class="b" fill="#bebebe" d="M627.69 192.19L632.09 192.19L632.09 196.02L630.99 197.54L632.09 199.07L632.09 202.68L627.69 202.68L627.69 199.07L628.79 197.54L627.69 196.02Z"/>
<path class="m" d="M628.79 197.54H630.99"/>
<path class="w" d="M635.47 136.83V146.43M635.47 179.24V161.38"/>
<path class="c" d="M634.37 136.83H636.57M634.37 179.24H636.57"/>
<path class="b" fill="#bebebe" d="M633.27 146.43L637.67 146.43L637.67 151.4L636.57 153.57L637.67 155.74L637.67 161.38L633.27 161.38L633.27 155.74L634.37 153.57L633.27 151.4Z"/>
<path class="m" d="M634.37 153.57H636.57"/>
<path class="w" d="M641.05 125V147.32M641.05 189.96V167.41"/>
<path class="c" d="M639.95 125H642.15M639.95 189.96H642.15"/>
<path class="b" fill="#bebebe" d="M638.85 147.32L643.25 147.32L643.25 155.12L642.15 158.04L643.25 160.95L643.25 167.41L638.85 167.41L638.85 160.95L639.95 158.04L638.85 155.12Z"/>
<path class="m" d="M639.95 158.04H642.15"/>
<path class="w" d="M646.64 172.54V186.61M646.64 210.94V197.54"/>
<path class="c" d="M645.54 172.54H647.74M645.54 210.94H647.74"/>
<path class="b" fill="#bebebe" d="M644.44 186.61L648.84 186.61L648.84 190.38L647.74 191.96L648.84 193.55L648.84 197.54L644.44 197.54L644.44 193.55L645.54 191.96L644.44 190.38Z"/>
<path class="m" d="M645.54 191.96H647.74"/>
<path class="w" d="M652.22 145.09V162.5M652.22 195.54V176.56"/>
<path class="c" d="M651.12 145.09H653.32M651.12 195.54H653.32"/>
<path class="b" fill="#bebebe" d="M650.02 162.5L654.42 162.5L654.42 168.94L653.32 170.98L654.42 173.02L654.42 176.56L650.02 176.56L650.02 173.02L651.12 170.98L650.02 168.94Z"/>
<path class="m" d="M651.12 170.98H653.32"/>
<path class="w" d="M657.8 135.71V152.46M657.8 175.89V164.73"/>
<path class="c" d="M656.7 135.71H658.9M656.7 175.89H658.9"/>
<path class="b" fill="#bebebe" d="M655.6 152.46L660 152.46L660 156.7L658.9 158.48L660 160.26L660 164.73L655.6 164.73L655.6 160.26L656.7 158.48L655.6 156.7Z"/>
<path class="m" d="M656.7 158.48H658.9"/>
<path class="bx" d="M74.2 22.2H683V287.1"/>
<path class="ax" d="M74.2 22.2V287.1H683M74.2 287.1H67.2M74.2 234.12H67.2M74.2 181.14H67.2M74.2 128.16H67.2M74.2 75.18H67.2M74.2 22.2H67.2M99.6 287.1V293.9M105.18 287.1V293.9M110.76 287.1V293.9M116.35 287.1V293.9M121.93 287.1V293.9M127.51 287.1V293.9M133.09 287.1V293.9M138.67 287.1V293.9M144.26 287.1V293.9M149.84 287.1V293.9M155.42 287.1V293.9M161 287.1V293.9M166.58 287.1V293.9M172.17 287.1V293.9M177.75 287.1V293.9M183.33 287.1V293.9M188.91 287.1V293.9M194.49 287.1V293.9M200.08 287.1V293.9M205.66 287.1V293.9M211.24 287.1V293.9M216.82 287.1V293.9M222.4 287.1V293.9M227.99 287.1V293.9M233.57 287.1V293.9M239.15 287.1V293.9M244.73 287.1V293.9M250.31 287.1V293.9M255.9 287.1V293.9M261.48 287.1V293.9M267.06 287.1V293.9M272.64 287.1V293.9M278.22 287.1V293.9M283.81 287.1V293.9M289.39 287.1V293.9M294.97 287.1V293.9M300.55 287.1V293.9M306.13 287.1V293.9M311.72 287.1V293.9M317.3 287.1V293.9M322.88 287.1V293.9M328.46 287.1V293.9M334.04 287.1V293.9M339.63 287.1V293.9M345.21 287.1V293.9M350.79 287.1V293.9M356.37 287.1V293.9M361.95 287.1V293.9M367.54 287.1V293.9M373.12 287.1V293.9M378.7 287.1V293.9M384.28 287.1V293.9M389.86 287.1V293.9M395.45 287.1V293.9M401.03 287.1V293.9M406.61 287.1V293.9M412.19 287.1V293.9M417.77 287.1V293.9M423.36 287.1V293.9M428.94 287.1V293.9M434.52 287.1V293.9M440.1 287.1V293.9M445.68 287.1V293.9M451.27 287.1V293.9M456.85 287.1V293.9M462.43 287.1V293.9M468.01 287.1V293.9M473.59 287.1V293.9M479.18 287.1V293.9M484.76 287.1V293.9M490.34 287.1V293.9M495.92 287.1V293.9M501.5 287.1V293.9M507.09 287.1V293.9M512.67 287.1V293.9M518.25 287.1V293.9M523.83 287.1V293.9M529.41 287.1V293.9M535 287.1V293.9M540.58 287.1V293.9M546.16 287.1V293.9M551.74 287.1V293.9M557.32 287.1V293.9M562.91 287.1V293.9M568.49 287.1V293.9M574.07 287.1V293.9M579.65 287.1V293.9M585.23 287.1V293.9M590.82 287.1V293.9M596.4 287.1V293.9M601.98 287.1V293.9M607.56 287.1V293.9M613.14 287.1V293.9M618.73 287.1V293.9M624.31 287.1V293.9M629.89 287.1V293.9M635.47 287.1V293.9M641.05 287.1V293.9M646.64 287.1V293.9M652.22 287.1V293.9M657.8 287.1V293.9"/>
<text class="t" transform="translate(61.3 293.3) scale(0.975 0.97)" text-anchor="end">0</text>
<text class="t" transform="translate(61.3 240.32) scale(0.975 0.97)" text-anchor="end">20</text>
<text class="t" transform="translate(61.3 187.34) scale(0.975 0.97)" text-anchor="end">40</text>
<text class="t" transform="translate(61.3 134.36) scale(0.975 0.97)" text-anchor="end">60</text>
<text class="t" transform="translate(61.3 81.38) scale(0.975 0.97)" text-anchor="end">80</text>
<text class="t" transform="translate(61.3 28.4) scale(0.975 0.97)" text-anchor="end">100</text>
<text class="t" transform="translate(99.6 311.2) scale(0.975 1.0)" text-anchor="middle">1</text>
<text class="t" transform="translate(121.93 311.2) scale(0.975 1.0)" text-anchor="middle">5</text>
<text class="t" transform="translate(144.26 311.2) scale(0.975 1.0)" text-anchor="middle">9</text>
<text class="t" transform="translate(172.17 311.2) scale(0.975 1.0)" text-anchor="middle">14</text>
<text class="t" transform="translate(205.66 311.2) scale(0.975 1.0)" text-anchor="middle">20</text>
<text class="t" transform="translate(239.15 311.2) scale(0.975 1.0)" text-anchor="middle">26</text>
<text class="t" transform="translate(272.64 311.2) scale(0.975 1.0)" text-anchor="middle">32</text>
<text class="t" transform="translate(306.13 311.2) scale(0.975 1.0)" text-anchor="middle">38</text>
<text class="t" transform="translate(339.63 311.2) scale(0.975 1.0)" text-anchor="middle">44</text>
<text class="t" transform="translate(373.12 311.2) scale(0.975 1.0)" text-anchor="middle">50</text>
<text class="t" transform="translate(406.61 311.2) scale(0.975 1.0)" text-anchor="middle">56</text>
<text class="t" transform="translate(440.1 311.2) scale(0.975 1.0)" text-anchor="middle">62</text>
<text class="t" transform="translate(473.59 311.2) scale(0.975 1.0)" text-anchor="middle">68</text>
<text class="t" transform="translate(507.09 311.2) scale(0.975 1.0)" text-anchor="middle">74</text>
<text class="t" transform="translate(540.58 311.2) scale(0.975 1.0)" text-anchor="middle">80</text>
<text class="t" transform="translate(574.07 311.2) scale(0.975 1.0)" text-anchor="middle">86</text>
<text class="t" transform="translate(607.56 311.2) scale(0.975 1.0)" text-anchor="middle">92</text>
<text class="t" transform="translate(641.05 311.2) scale(0.975 1.0)" text-anchor="middle">98</text>
</g>
<g id="pb">
<path class="w" d="M99.6 469.91V504.73M99.6 547.14V531.29"/>
<path class="c" d="M98.5 469.91H100.7M98.5 547.14H100.7"/>
<path class="b" fill="#ff0000" d="M97.4 504.73L101.8 504.73L101.8 513.6L100.7 517.46L101.8 521.31L101.8 531.29L97.4 531.29L97.4 521.31L98.5 517.46L97.4 513.6Z"/>
<path class="m" d="M98.5 517.46H100.7"/>
<path class="w" d="M105.18 443.9V490.22M105.18 566.12V520.8"/>
<path class="c" d="M104.08 443.9H106.28M104.08 566.12H106.28"/>
<path class="b" fill="#ff0000" d="M102.98 490.22L107.38 490.22L107.38 500.3L106.28 504.73L107.38 509.17L107.38 520.8L102.98 520.8L102.98 509.17L104.08 504.73L102.98 500.3Z"/>
<path class="m" d="M104.08 504.73H106.28"/>
<path class="w" d="M110.76 483.3V504.73M110.76 535.98V519.02"/>
<path class="c" d="M109.66 483.3H111.86M109.66 535.98H111.86"/>
<path class="b" fill="#ff0000" d="M108.56 504.73L112.96 504.73L112.96 508.69L111.86 510.76L112.96 512.83L112.96 519.02L108.56 519.02L108.56 512.83L109.66 510.76L108.56 508.69Z"/>
<path class="m" d="M109.66 510.76H111.86"/>
<path class="w" d="M116.35 490V515.89M116.35 557.63V534.87"/>
<path class="c" d="M115.25 490H117.45M115.25 557.63H117.45"/>
<path class="b" fill="#ff0000" d="M114.15 515.89L118.55 515.89L118.55 521.4L117.45 524.15L118.55 526.9L118.55 534.87L114.15 534.87L114.15 526.9L115.25 524.15L114.15 521.4Z"/>
<path class="m" d="M115.25 524.15H117.45"/>
<path class="w" d="M121.93 480.18V508.97M121.93 560.98V531.29"/>
<path class="c" d="M120.83 480.18H123.03M120.83 560.98H123.03"/>
<path class="b" fill="#ff0000" d="M119.73 508.97L124.13 508.97L124.13 515.33L123.03 518.57L124.13 521.81L124.13 531.29L119.73 531.29L119.73 521.81L120.83 518.57L119.73 515.33Z"/>
<path class="m" d="M120.83 518.57H123.03"/>
<path class="w" d="M127.51 473.93V496.92M127.51 531.96V511.88"/>
<path class="c" d="M126.41 473.93H128.61M126.41 531.96H128.61"/>
<path class="b" fill="#ff0000" d="M125.31 496.92L129.71 496.92L129.71 502.56L128.61 504.73L129.71 506.9L129.71 511.88L125.31 511.88L125.31 506.9L126.41 504.73L125.31 502.56Z"/>
<path class="m" d="M126.41 504.73H128.61"/>
<path class="w" d="M133.09 508.3V527.5M133.09 573.5V546"/>
<path class="c" d="M131.99 508.3H134.19M131.99 573.5H134.19"/>
<path class="b" fill="#bebebe" d="M130.89 527.5L135.29 527.5L135.29 533.42L134.19 536.1L135.29 538.78L135.29 546L130.89 546L130.89 538.78L131.99 536.1L130.89 533.42Z"/>
<path class="m" d="M131.99 536.1H134.19"/>
<path class="w" d="M138.67 527.8V561.4M138.67 598V591.1"/>
<path class="c" d="M137.57 527.8H139.77M137.57 598H139.77"/>
<path class="b" fill="#00cd00" d="M136.47 561.4L140.87 561.4L140.87 582.89L139.77 587.2L140.87 591.51L140.87 591.1L136.47 591.1L136.47 591.51L137.57 587.2L136.47 582.89Z"/>
<path class="m" d="M137.57 587.2H139.77"/>
<path class="w" d="M144.26 523.1V533M144.26 564.5V549.7"/>
<path class="c" d="M143.16 523.1H145.36M143.16 564.5H145.36"/>
<path class="b" fill="#00cd00" d="M142.06 533L146.46 533L146.46 539.18L145.36 541.6L146.46 544.02L146.46 549.7L142.06 549.7L142.06 544.02L143.16 541.6L142.06 539.18Z"/>
<path class="m" d="M143.16 541.6H145.36"/>
<path class="w" d="M149.84 500.9V541.9M149.84 588.8V572.9"/>
<path class="c" d="M148.74 500.9H150.94M148.74 588.8H150.94"/>
<path class="b" fill="#00cd00" d="M147.64 541.9L152.04 541.9L152.04 555.11L150.94 559.6L152.04 564.1L152.04 572.9L147.64 572.9L147.64 564.1L148.74 559.6L147.64 555.11Z"/>
<path class="m" d="M148.74 559.6H150.94"/>
<path class="w" d="M155.42 504.7V542.7M155.42 596.6V582.8"/>
<path class="c" d="M154.32 504.7H156.52M154.32 596.6H156.52"/>
<path class="b" fill="#00cd00" d="M153.22 542.7L157.62 542.7L157.62 563.99L156.52 569.8L157.62 575.61L157.62 582.8L153.22 582.8L153.22 575.61L154.32 569.8L153.22 563.99Z"/>
<path class="m" d="M154.32 569.8H156.52"/>
<path class="w" d="M161 470.2V510.2M161 570.7V536.9"/>
<path class="c" d="M159.9 470.2H162.1M159.9 570.7H162.1"/>
<path class="b" fill="#00cd00" d="M158.8 510.2L163.2 510.2L163.2 522.43L162.1 526.3L163.2 530.17L163.2 536.9L158.8 536.9L158.8 530.17L159.9 526.3L158.8 522.43Z"/>
<path class="m" d="M159.9 526.3H162.1"/>
<path class="w" d="M166.58 488.2V532M166.58 580.3V560.8"/>
<path class="c" d="M165.48 488.2H167.68M165.48 580.3H167.68"/>
<path class="b" fill="#00cd00" d="M164.38 532L168.78 532L168.78 544.62L167.68 548.8L168.78 552.98L168.78 560.8L164.38 560.8L164.38 552.98L165.48 548.8L164.38 544.62Z"/>
<path class="m" d="M165.48 548.8H167.68"/>
<path class="w" d="M172.17 539.6V566.6M172.17 602.3V585.6"/>
<path class="c" d="M171.07 539.6H173.27M171.07 602.3H173.27"/>
<path class="b" fill="#00cd00" d="M169.97 566.6L174.37 566.6L174.37 572.45L173.27 575.2L174.37 577.96L174.37 585.6L169.97 585.6L169.97 577.96L171.07 575.2L169.97 572.45Z"/>
<path class="m" d="M171.07 575.2H173.27"/>
<path class="w" d="M177.75 495.3V529.7M177.75 572.2V556"/>
<path class="c" d="M176.65 495.3H178.85M176.65 572.2H178.85"/>
<path class="b" fill="#00cd00" d="M175.55 529.7L179.95 529.7L179.95 544.99L178.85 548.8L179.95 552.61L179.95 556L175.55 556L175.55 552.61L176.65 548.8L175.55 544.99Z"/>
<path class="m" d="M176.65 548.8H178.85"/>
<path class="w" d="M183.33 545.5V566.6M183.33 596V581.7"/>
<path class="c" d="M182.23 545.5H184.43M182.23 596H184.43"/>
<path class="b" fill="#00cd00" d="M181.13 566.6L185.53 566.6L185.53 572.61L184.43 574.8L185.53 576.99L185.53 581.7L181.13 581.7L181.13 576.99L182.23 574.8L181.13 572.61Z"/>
<path class="m" d="M182.23 574.8H184.43"/>
<path class="w" d="M188.91 471.8V489.55M188.91 517.46V505.18"/>
<path class="c" d="M187.81 471.8H190.01M187.81 517.46H190.01"/>
<path class="b" fill="#00cd00" d="M186.71 489.55L191.11 489.55L191.11 495.1L190.01 497.37L191.11 499.63L191.11 505.18L186.71 505.18L186.71 499.63L187.81 497.37L186.71 495.1Z"/>
<path class="m" d="M187.81 497.37H190.01"/>
<path class="w" d="M194.49 495.13V517.46M194.49 572.81V547.14"/>
<path class="c" d="M193.39 495.13H195.59M193.39 572.81H195.59"/>
<path class="b" fill="#bebebe" d="M192.29 517.46L196.69 517.46L196.69 529.45L195.59 533.75L196.69 538.05L196.69 547.14L192.29 547.14L192.29 538.05L193.39 533.75L192.29 529.45Z"/>
<path class="m" d="M193.39 533.75H195.59"/>
<path class="w" d="M200.08 427.9V453.5M200.08 501.83V474"/>
<path class="c" d="M198.98 427.9H201.18M198.98 501.83H201.18"/>
<path class="b" fill="#bebebe" d="M197.88 453.5L202.28 453.5L202.28 459.13L201.18 462.1L202.28 465.07L202.28 474L197.88 474L197.88 465.07L198.98 462.1L197.88 459.13Z"/>
<path class="m" d="M198.98 462.1H201.18"/>
<path class="w" d="M205.66 449.7V476.4M205.66 568.79V527.05"/>
<path class="c" d="M204.56 449.7H206.76M204.56 568.79H206.76"/>
<path class="b" fill="#bebebe" d="M203.46 476.4L207.86 476.4L207.86 491.14L206.76 498.48L207.86 505.83L207.86 527.05L203.46 527.05L203.46 505.83L204.56 498.48L203.46 491.14Z"/>
<path class="m" d="M204.56 498.48H206.76"/>
<path class="w" d="M211.24 499.6V527.5M211.24 577.72V547.59"/>
<path class="c" d="M210.14 499.6H212.34M210.14 577.72H212.34"/>
<path class="b" fill="#bebebe" d="M209.04 527.5L213.44 527.5L213.44 535.75L212.34 538.66L213.44 541.57L213.44 547.59L209.04 547.59L209.04 541.57L210.14 538.66L209.04 535.75Z"/>
<path class="m" d="M210.14 538.66H212.34"/>
<path class="w" d="M216.82 521.92V544.69M216.82 571.03V562.54"/>
<path class="c" d="M215.72 521.92H217.92M215.72 571.03H217.92"/>
<path class="b" fill="#bebebe" d="M214.62 544.69L219.02 544.69L219.02 551.7L217.92 554.29L219.02 556.87L219.02 562.54L214.62 562.54L214.62 556.87L215.72 554.29L214.62 551.7Z"/>
<path class="m" d="M215.72 554.29H217.92"/>
<path class="w" d="M222.4 448.7V489.55M222.4 548.71V524.15"/>
<path class="c" d="M221.3 448.7H223.5M221.3 548.71H223.5"/>
<path class="b" fill="#bebebe" d="M220.2 489.55L224.6 489.55L224.6 503.51L223.5 508.53L224.6 513.54L224.6 524.15L220.2 524.15L220.2 513.54L221.3 508.53L220.2 503.51Z"/>
<path class="m" d="M221.3 508.53H223.5"/>
<path class="w" d="M227.99 541.56V555.4M227.99 575.94V566.12"/>
<path class="c" d="M226.89 541.56H229.09M226.89 575.94H229.09"/>
<path class="b" fill="#bebebe" d="M225.79 555.4L230.19 555.4L230.19 559.43L229.09 560.98L230.19 562.54L230.19 566.12L225.79 566.12L225.79 562.54L226.89 560.98L225.79 559.43Z"/>
<path class="m" d="M226.89 560.98H229.09"/>
<path class="w" d="M233.57 421.5V475.6M233.57 540.89V512.99"/>
<path class="c" d="M232.47 421.5H234.67M232.47 540.89H234.67"/>
<path class="b" fill="#bebebe" d="M231.37 475.6L235.77 475.6L235.77 494.18L234.67 499.6L235.77 505.02L235.77 512.99L231.37 512.99L231.37 505.02L232.47 499.6L231.37 494.18Z"/>
<path class="m" d="M232.47 499.6H234.67"/>
<path class="w" d="M239.15 556.07V568.12M239.15 591.12V579.51"/>
<path class="c" d="M238.05 556.07H240.25M238.05 591.12H240.25"/>
<path class="b" fill="#bebebe" d="M236.95 568.12L241.35 568.12L241.35 572.05L240.25 573.71L241.35 575.36L241.35 579.51L236.95 579.51L236.95 575.36L238.05 573.71L236.95 572.05Z"/>
<path class="m" d="M238.05 573.71H240.25"/>
<path class="w" d="M244.73 494.02V526.38M244.73 575.94V555.4"/>
<path class="c" d="M243.63 494.02H245.83M243.63 575.94H245.83"/>
<path class="b" fill="#bebebe" d="M242.53 526.38L246.93 526.38L246.93 537.8L245.83 542.01L246.93 546.22L246.93 555.4L242.53 555.4L242.53 546.22L243.63 542.01L242.53 537.8Z"/>
<path class="m" d="M243.63 542.01H245.83"/>
<path class="w" d="M250.31 487.32V529.73M250.31 575.94V556.96"/>
<path class="c" d="M249.21 487.32H251.41M249.21 575.94H251.41"/>
<path class="b" fill="#bebebe" d="M248.11 529.73L252.51 529.73L252.51 541.41L251.41 545.36L252.51 549.31L252.51 556.96L248.11 556.96L248.11 549.31L249.21 545.36L248.11 541.41Z"/>
<path class="m" d="M249.21 545.36H251.41"/>
<path class="w" d="M255.9 484.42V514.55M255.9 563.88V535.31"/>
<path class="c" d="M254.8 484.42H257M254.8 563.88H257"/>
<path class="b" fill="#bebebe" d="M253.7 514.55L258.1 514.55L258.1 522.26L257 525.27L258.1 528.28L258.1 535.31L253.7 535.31L253.7 528.28L254.8 525.27L253.7 522.26Z"/>
<path class="m" d="M254.8 525.27H257"/>
<path class="w" d="M261.48 398.7V443M261.48 553.84V488.88"/>
<path class="c" d="M260.38 398.7H262.58M260.38 553.84H262.58"/>
<path class="b" fill="#bebebe" d="M259.28 443L263.68 443L263.68 460.15L262.58 466.8L263.68 473.45L263.68 488.88L259.28 488.88L259.28 473.45L260.38 466.8L259.28 460.15Z"/>
<path class="m" d="M260.38 466.8H262.58"/>
<path class="w" d="M267.06 501.83V518.57M267.06 572.14V548.26"/>
<path class="c" d="M265.96 501.83H268.16M265.96 572.14H268.16"/>
<path class="b" fill="#bebebe" d="M264.86 518.57L269.26 518.57L269.26 525.43L268.16 529.73L269.26 534.04L269.26 548.26L264.86 548.26L264.86 534.04L265.96 529.73L264.86 525.43Z"/>
<path class="m" d="M265.96 529.73H268.16"/>
<path class="w" d="M272.64 472.8V483.3M272.64 503.39V492.9"/>
<path class="c" d="M271.54 472.8H273.74M271.54 503.39H273.74"/>
<path class="b" fill="#bebebe" d="M270.44 483.3L274.84 483.3L274.84 486.6L273.74 487.99L274.84 489.38L274.84 492.9L270.44 492.9L270.44 489.38L271.54 487.99L270.44 486.6Z"/>
<path class="m" d="M271.54 487.99H273.74"/>
<path class="w" d="M278.22 454.3V494.46M278.22 560.54V521.92"/>
<path class="c" d="M277.12 454.3H279.32M277.12 560.54H279.32"/>
<path class="b" fill="#bebebe" d="M276.02 494.46L280.42 494.46L280.42 500.75L279.32 504.73L280.42 508.71L280.42 521.92L276.02 521.92L276.02 508.71L277.12 504.73L276.02 500.75Z"/>
<path class="m" d="M277.12 504.73H279.32"/>
<path class="w" d="M283.81 464.9V511.88M283.81 584.42V544.24"/>
<path class="c" d="M282.71 464.9H284.91M282.71 584.42H284.91"/>
<path class="b" fill="#bebebe" d="M281.61 511.88L286.01 511.88L286.01 520.57L284.91 525.27L286.01 529.96L286.01 544.24L281.61 544.24L281.61 529.96L282.71 525.27L281.61 520.57Z"/>
<path class="m" d="M282.71 525.27H284.91"/>
<path class="w" d="M289.39 510.31V526.83M289.39 553.84V538.21"/>
<path class="c" d="M288.29 510.31H290.49M288.29 553.84H290.49"/>
<path class="b" fill="#bebebe" d="M287.19 526.83L291.59 526.83L291.59 530.98L290.49 532.63L291.59 534.28L291.59 538.21L287.19 538.21L287.19 534.28L288.29 532.63L287.19 530.98Z"/>
<path class="m" d="M288.29 532.63H290.49"/>
<path class="w" d="M294.97 515.22V534.87M294.97 568.35V553.84"/>
<path class="c" d="M293.87 515.22H296.07M293.87 568.35H296.07"/>
<path class="b" fill="#bebebe" d="M292.77 534.87L297.17 534.87L297.17 540.37L296.07 543.12L297.17 545.88L297.17 553.84L292.77 553.84L292.77 545.88L293.87 543.12L292.77 540.37Z"/>
<path class="m" d="M293.87 543.12H296.07"/>
<path class="w" d="M300.55 439.6V482.1M300.55 560.54V515.22"/>
<path class="c" d="M299.45 439.6H301.65M299.45 560.54H301.65"/>
<path class="b" fill="#0000ff" d="M298.35 482.1L302.75 482.1L302.75 492.56L301.65 497.37L302.75 502.17L302.75 515.22L298.35 515.22L298.35 502.17L299.45 497.37L298.35 492.56Z"/>
<path class="m" d="M299.45 497.37H301.65"/>
<path class="w" d="M306.13 480.9V512.54M306.13 561.43V537.99"/>
<path class="c" d="M305.03 480.9H307.23M305.03 561.43H307.23"/>
<path class="b" fill="#0000ff" d="M303.93 512.54L308.33 512.54L308.33 521.58L307.23 525.27L308.33 528.96L308.33 537.99L303.93 537.99L303.93 528.96L305.03 525.27L303.93 521.58Z"/>
<path class="m" d="M305.03 525.27H307.23"/>
<path class="w" d="M311.72 473V493.57M311.72 529.73V514.55"/>
<path class="c" d="M310.62 473H312.82M310.62 529.73H312.82"/>
<path class="b" fill="#0000ff" d="M309.52 493.57L313.92 493.57L313.92 498.79L312.82 501.83L313.92 504.87L313.92 514.55L309.52 514.55L309.52 504.87L310.62 501.83L309.52 498.79Z"/>
<path class="m" d="M310.62 501.83H312.82"/>
<path class="w" d="M317.3 472.9V489M317.3 516.79V504.06"/>
<path class="c" d="M316.2 472.9H318.4M316.2 516.79H318.4"/>
<path class="b" fill="#0000ff" d="M315.1 489L319.5 489L319.5 494.74L318.4 496.92L319.5 499.1L319.5 504.06L315.1 504.06L315.1 499.1L316.2 496.92L315.1 494.74Z"/>
<path class="m" d="M316.2 496.92H318.4"/>
<path class="w" d="M322.88 491.1V523.71M322.88 565.45V550.94"/>
<path class="c" d="M321.78 491.1H323.98M321.78 565.45H323.98"/>
<path class="b" fill="#0000ff" d="M320.68 523.71L325.08 523.71L325.08 539.18L323.98 543.12L325.08 547.07L325.08 550.94L320.68 550.94L320.68 547.07L321.78 543.12L320.68 539.18Z"/>
<path class="m" d="M321.78 543.12H323.98"/>
<path class="w" d="M328.46 452.3V502.5M328.46 549.82V539.78"/>
<path class="c" d="M327.36 452.3H329.56M327.36 549.82H329.56"/>
<path class="b" fill="#0000ff" d="M326.26 502.5L330.66 502.5L330.66 524.33L329.56 529.73L330.66 535.14L330.66 539.78L326.26 539.78L326.26 535.14L327.36 529.73L326.26 524.33Z"/>
<path class="m" d="M327.36 529.73H329.56"/>
<path class="w" d="M334.04 467.8V496.25M334.04 559.42V543.12"/>
<path class="c" d="M332.94 467.8H335.14M332.94 559.42H335.14"/>
<path class="b" fill="#0000ff" d="M331.84 496.25L336.24 496.25L336.24 512.89L335.14 519.69L336.24 526.48L336.24 543.12L331.84 543.12L331.84 526.48L332.94 519.69L331.84 512.89Z"/>
<path class="m" d="M332.94 519.69H335.14"/>
<path class="w" d="M339.63 451.5V488.5M339.63 544.91V520.13"/>
<path class="c" d="M338.53 451.5H340.73M338.53 544.91H340.73"/>
<path class="b" fill="#0000ff" d="M337.43 488.5L341.83 488.5L341.83 500.59L340.73 505.18L341.83 509.77L341.83 520.13L337.43 520.13L337.43 509.77L338.53 505.18L337.43 500.59Z"/>
<path class="m" d="M338.53 505.18H340.73"/>
<path class="w" d="M345.21 439.6V482.7M345.21 550.94V516.79"/>
<path class="c" d="M344.11 439.6H346.31M344.11 550.94H346.31"/>
<path class="b" fill="#0000ff" d="M343.01 482.7L347.41 482.7L347.41 493.54L346.31 498.48L347.41 503.42L347.41 516.79L343.01 516.79L343.01 503.42L344.11 498.48L343.01 493.54Z"/>
<path class="m" d="M344.11 498.48H346.31"/>
<path class="w" d="M350.79 481V499.6M350.79 551.61V535.31"/>
<path class="c" d="M349.69 481H351.89M349.69 551.61H351.89"/>
<path class="b" fill="#0000ff" d="M348.59 499.6L352.99 499.6L352.99 512.28L351.89 517.46L352.99 522.63L352.99 535.31L348.59 535.31L348.59 522.63L349.69 517.46L348.59 512.28Z"/>
<path class="m" d="M349.69 517.46H351.89"/>
<path class="w" d="M356.37 470V498.93M356.37 545.36V534.87"/>
<path class="c" d="M355.27 470H357.47M355.27 545.36H357.47"/>
<path class="b" fill="#0000ff" d="M354.17 498.93L358.57 498.93L358.57 510.68L357.47 515.89L358.57 521.1L358.57 534.87L354.17 534.87L354.17 521.1L355.27 515.89L354.17 510.68Z"/>
<path class="m" d="M355.27 515.89H357.47"/>
<path class="w" d="M361.95 452.3V497.37M361.95 563.21V527.5"/>
<path class="c" d="M360.85 452.3H363.05M360.85 563.21H363.05"/>
<path class="b" fill="#0000ff" d="M359.75 497.37L364.15 497.37L364.15 506.39L363.05 510.76L364.15 515.13L364.15 527.5L359.75 527.5L359.75 515.13L360.85 510.76L359.75 506.39Z"/>
<path class="m" d="M360.85 510.76H363.05"/>
<path class="w" d="M367.54 434.9V468.5M367.54 554.29V515.89"/>
<path class="c" d="M366.44 434.9H368.64M366.44 554.29H368.64"/>
<path class="b" fill="#0000ff" d="M365.34 468.5L369.74 468.5L369.74 484.91L368.64 491.79L369.74 498.66L369.74 515.89L365.34 515.89L365.34 498.66L366.44 491.79L365.34 484.91Z"/>
<path class="m" d="M366.44 491.79H368.64"/>
<path class="w" d="M373.12 440.8V498.48M373.12 552.05V540.89"/>
<path class="c" d="M372.02 440.8H374.22M372.02 552.05H374.22"/>
<path class="b" fill="#0000ff" d="M370.92 498.48L375.32 498.48L375.32 523.58L374.22 529.73L375.32 535.88L375.32 540.89L370.92 540.89L370.92 535.88L372.02 529.73L370.92 523.58Z"/>
<path class="m" d="M372.02 529.73H374.22"/>
<path class="w" d="M378.7 466.6V501.16M378.7 557.63V525.27"/>
<path class="c" d="M377.6 466.6H379.8M377.6 557.63H379.8"/>
<path class="b" fill="#0000ff" d="M376.5 501.16L380.9 501.16L380.9 508.38L379.8 511.88L380.9 515.37L380.9 525.27L376.5 525.27L376.5 515.37L377.6 511.88L376.5 508.38Z"/>
<path class="m" d="M377.6 511.88H379.8"/>
<path class="w" d="M384.28 478.4V520.8M384.28 568.79V550.49"/>
<path class="c" d="M383.18 478.4H385.38M383.18 568.79H385.38"/>
<path class="b" fill="#0000ff" d="M382.08 520.8L386.48 520.8L386.48 529.89L385.38 534.2L386.48 538.5L386.48 550.49L382.08 550.49L382.08 538.5L383.18 534.2L382.08 529.89Z"/>
<path class="m" d="M383.18 534.2H385.38"/>
<path class="w" d="M389.86 439.3V494M389.86 560.98V547.14"/>
<path class="c" d="M388.76 439.3H390.96M388.76 560.98H390.96"/>
<path class="b" fill="#0000ff" d="M387.66 494L392.06 494L392.06 524.26L390.96 531.96L392.06 539.67L392.06 547.14L387.66 547.14L387.66 539.67L388.76 531.96L387.66 524.26Z"/>
<path class="m" d="M388.76 531.96H390.96"/>
<path class="w" d="M395.45 478.6V520.8M395.45 575.04V548.71"/>
<path class="c" d="M394.35 478.6H396.55M394.35 575.04H396.55"/>
<path class="b" fill="#0000ff" d="M393.25 520.8L397.65 520.8L397.65 534.61L396.55 538.66L397.65 542.71L397.65 548.71L393.25 548.71L393.25 542.71L394.35 538.66L393.25 534.61Z"/>
<path class="m" d="M394.35 538.66H396.55"/>
<path class="w" d="M401.03 404.7V475.2M401.03 569.91V537.54"/>
<path class="c" d="M399.93 404.7H402.13M399.93 569.91H402.13"/>
<path class="b" fill="#0000ff" d="M398.83 475.2L403.23 475.2L403.23 499.49L402.13 508.53L403.23 517.57L403.23 537.54L398.83 537.54L398.83 517.57L399.93 508.53L398.83 499.49Z"/>
<path class="m" d="M399.93 508.53H402.13"/>
<path class="w" d="M406.61 455.3V496.7M406.61 558.75V537.99"/>
<path class="c" d="M405.51 455.3H407.71M405.51 558.75H407.71"/>
<path class="b" fill="#0000ff" d="M404.41 496.7L408.81 496.7L408.81 513.7L407.71 519.69L408.81 525.68L408.81 537.99L404.41 537.99L404.41 525.68L405.51 519.69L404.41 513.7Z"/>
<path class="m" d="M405.51 519.69H407.71"/>
<path class="w" d="M412.19 418.1V453M412.19 517.46V485"/>
<path class="c" d="M411.09 418.1H413.29M411.09 517.46H413.29"/>
<path class="b" fill="#0000ff" d="M409.99 453L414.39 453L414.39 463.26L413.29 467.9L414.39 472.54L414.39 485L409.99 485L409.99 472.54L411.09 467.9L409.99 463.26Z"/>
<path class="m" d="M411.09 467.9H413.29"/>
<path class="w" d="M417.77 471.3V488.6M417.77 514.11V500.04"/>
<path class="c" d="M416.67 471.3H418.87M416.67 514.11H418.87"/>
<path class="b" fill="#0000ff" d="M415.57 488.6L419.97 488.6L419.97 492.36L418.87 494.02L419.97 495.68L419.97 500.04L415.57 500.04L415.57 495.68L416.67 494.02L415.57 492.36Z"/>
<path class="m" d="M416.67 494.02H418.87"/>
<path class="w" d="M423.36 474.8V508.97M423.36 550.94V534.2"/>
<path class="c" d="M422.26 474.8H424.46M422.26 550.94H424.46"/>
<path class="b" fill="#0000ff" d="M421.16 508.97L425.56 508.97L425.56 519.82L424.46 523.48L425.56 527.14L425.56 534.2L421.16 534.2L421.16 527.14L422.26 523.48L421.16 519.82Z"/>
<path class="m" d="M422.26 523.48H424.46"/>
<path class="w" d="M428.94 474.8V501.83M428.94 556.96V535.98"/>
<path class="c" d="M427.84 474.8H430.04M427.84 556.96H430.04"/>
<path class="b" fill="#0000ff" d="M426.74 501.83L431.14 501.83L431.14 512.5L430.04 517.46L431.14 522.41L431.14 535.98L426.74 535.98L426.74 522.41L427.84 517.46L426.74 512.5Z"/>
<path class="m" d="M427.84 517.46H430.04"/>
<path class="w" d="M434.52 438.2V479.3M434.52 542.01V516.34"/>
<path class="c" d="M433.42 438.2H435.62M433.42 542.01H435.62"/>
<path class="b" fill="#0000ff" d="M432.32 479.3L436.72 479.3L436.72 493.11L435.62 498.48L436.72 503.85L436.72 516.34L432.32 516.34L432.32 503.85L433.42 498.48L432.32 493.11Z"/>
<path class="m" d="M433.42 498.48H435.62"/>
<path class="w" d="M440.1 523.04V530.4M440.1 553.17V540.89"/>
<path class="c" d="M439 523.04H441.2M439 553.17H441.2"/>
<path class="b" fill="#0000ff" d="M437.9 530.4L442.3 530.4L442.3 534.91L441.2 536.43L442.3 537.95L442.3 540.89L437.9 540.89L437.9 537.95L439 536.43L437.9 534.91Z"/>
<path class="m" d="M439 536.43H441.2"/>
<path class="w" d="M445.68 462.7V493.8M445.68 542.01V514.78"/>
<path class="c" d="M444.58 462.7H446.78M444.58 542.01H446.78"/>
<path class="b" fill="#0000ff" d="M443.48 493.8L447.88 493.8L447.88 502.14L446.78 505.18L447.88 508.22L447.88 514.78L443.48 514.78L443.48 508.22L444.58 505.18L443.48 502.14Z"/>
<path class="m" d="M444.58 505.18H446.78"/>
<path class="w" d="M451.27 482V508.97M451.27 556.52V536.43"/>
<path class="c" d="M450.17 482H452.37M450.17 556.52H452.37"/>
<path class="b" fill="#0000ff" d="M449.07 508.97L453.47 508.97L453.47 519.05L452.37 523.04L453.47 527.02L453.47 536.43L449.07 536.43L449.07 527.02L450.17 523.04L449.07 519.05Z"/>
<path class="m" d="M450.17 523.04H452.37"/>
<path class="w" d="M456.85 435.1V466.3M456.85 507.41V488.8"/>
<path class="c" d="M455.75 435.1H457.95M455.75 507.41H457.95"/>
<path class="b" fill="#0000ff" d="M454.65 466.3L459.05 466.3L459.05 474.34L457.95 477.6L459.05 480.86L459.05 488.8L454.65 488.8L454.65 480.86L455.75 477.6L454.65 474.34Z"/>
<path class="m" d="M455.75 477.6H457.95"/>
<path class="w" d="M462.43 459V502.5M462.43 563.21V543.12"/>
<path class="c" d="M461.33 459H463.53M461.33 563.21H463.53"/>
<path class="b" fill="#0000ff" d="M460.23 502.5L464.63 502.5L464.63 520.49L463.53 526.38L464.63 532.27L464.63 543.12L460.23 543.12L460.23 532.27L461.33 526.38L460.23 520.49Z"/>
<path class="m" d="M461.33 526.38H463.53"/>
<path class="w" d="M468.01 484.7V515.22M468.01 570.36V539.78"/>
<path class="c" d="M466.91 484.7H469.11M466.91 570.36H469.11"/>
<path class="b" fill="#0000ff" d="M465.81 515.22L470.21 515.22L470.21 522.82L469.11 526.38L470.21 529.94L470.21 539.78L465.81 539.78L465.81 529.94L466.91 526.38L465.81 522.82Z"/>
<path class="m" d="M466.91 526.38H469.11"/>
<path class="w" d="M473.59 405.4V455.7M473.59 543.57V491.9"/>
<path class="c" d="M472.49 405.4H474.69M472.49 543.57H474.69"/>
<path class="b" fill="#0000ff" d="M471.39 455.7L475.79 455.7L475.79 469.05L474.69 474.3L475.79 479.55L475.79 491.9L471.39 491.9L471.39 479.55L472.49 474.3L471.39 469.05Z"/>
<path class="m" d="M472.49 474.3H474.69"/>
<path class="w" d="M479.18 454.5V489.8M479.18 562.77V529.73"/>
<path class="c" d="M478.08 454.5H480.28M478.08 562.77H480.28"/>
<path class="b" fill="#0000ff" d="M476.98 489.8L481.38 489.8L481.38 509.43L480.28 515.22L481.38 521.01L481.38 529.73L476.98 529.73L476.98 521.01L478.08 515.22L476.98 509.43Z"/>
<path class="m" d="M478.08 515.22H480.28"/>
<path class="w" d="M484.76 406.6V464.9M484.76 530.4V507.41"/>
<path class="c" d="M483.66 406.6H485.86M483.66 530.4H485.86"/>
<path class="b" fill="#0000ff" d="M482.56 464.9L486.96 464.9L486.96 478.54L485.86 484.7L486.96 490.86L486.96 507.41L482.56 507.41L482.56 490.86L483.66 484.7L482.56 478.54Z"/>
<path class="m" d="M483.66 484.7H485.86"/>
<path class="w" d="M490.34 433.4V478.3M490.34 537.54V519.69"/>
<path class="c" d="M489.24 433.4H491.44M489.24 537.54H491.44"/>
<path class="b" fill="#0000ff" d="M488.14 478.3L492.54 478.3L492.54 488.02L491.44 494.02L492.54 500.02L492.54 519.69L488.14 519.69L488.14 500.02L489.24 494.02L488.14 488.02Z"/>
<path class="m" d="M489.24 494.02H491.44"/>
<path class="w" d="M495.92 430.7V488.8M495.92 547.14V530.4"/>
<path class="c" d="M494.82 430.7H497.02M494.82 547.14H497.02"/>
<path class="b" fill="#0000ff" d="M493.72 488.8L498.12 488.8L498.12 505.84L497.02 511.88L498.12 517.91L498.12 530.4L493.72 530.4L493.72 517.91L494.82 511.88L493.72 505.84Z"/>
<path class="m" d="M494.82 511.88H497.02"/>
<path class="w" d="M501.5 464.6V499.6M501.5 555.4V538.66"/>
<path class="c" d="M500.4 464.6H502.6M500.4 555.4H502.6"/>
<path class="b" fill="#0000ff" d="M499.3 499.6L503.7 499.6L503.7 507.33L502.6 512.99L503.7 518.66L503.7 538.66L499.3 538.66L499.3 518.66L500.4 512.99L499.3 507.33Z"/>
<path class="m" d="M500.4 512.99H502.6"/>
<path class="w" d="M507.09 439.3V482.8M507.09 536.43V512.99"/>
<path class="c" d="M505.99 439.3H508.19M505.99 536.43H508.19"/>
<path class="b" fill="#0000ff" d="M504.89 482.8L509.29 482.8L509.29 495.22L508.19 499.6L509.29 503.98L509.29 512.99L504.89 512.99L504.89 503.98L505.99 499.6L504.89 495.22Z"/>
<path class="m" d="M505.99 499.6H508.19"/>
<path class="w" d="M512.67 455.3V507.41M512.67 565.45V552.72"/>
<path class="c" d="M511.57 455.3H513.77M511.57 565.45H513.77"/>
<path class="b" fill="#0000ff" d="M510.47 507.41L514.87 507.41L514.87 526.51L513.77 533.08L514.87 539.65L514.87 552.72L510.47 552.72L510.47 539.65L511.57 533.08L510.47 526.51Z"/>
<path class="m" d="M511.57 533.08H513.77"/>
<path class="w" d="M518.25 466.4V512.54M518.25 571.7V553.62"/>
<path class="c" d="M517.15 466.4H519.35M517.15 571.7H519.35"/>
<path class="b" fill="#0000ff" d="M516.05 512.54L520.45 512.54L520.45 531.59L519.35 537.54L520.45 543.5L520.45 553.62L516.05 553.62L516.05 543.5L517.15 537.54L516.05 531.59Z"/>
<path class="m" d="M517.15 537.54H519.35"/>
<path class="w" d="M523.83 478.5V525.27M523.83 569.91V556.07"/>
<path class="c" d="M522.73 478.5H524.93M522.73 569.91H524.93"/>
<path class="b" fill="#0000ff" d="M521.63 525.27L526.03 525.27L526.03 535.31L524.93 539.78L526.03 544.24L526.03 556.07L521.63 556.07L521.63 544.24L522.73 539.78L521.63 535.31Z"/>
<path class="m" d="M522.73 539.78H524.93"/>
<path class="w" d="M529.41 489V517.01M529.41 567.68V548.71"/>
<path class="c" d="M528.31 489H530.51M528.31 567.68H530.51"/>
<path class="b" fill="#0000ff" d="M527.21 517.01L531.61 517.01L531.61 526.92L530.51 531.52L531.61 536.11L531.61 548.71L527.21 548.71L527.21 536.11L528.31 531.52L527.21 526.92Z"/>
<path class="m" d="M528.31 531.52H530.51"/>
<path class="w" d="M535 490.8V508.53M535 533.08V520.36"/>
<path class="c" d="M533.9 490.8H536.1M533.9 533.08H536.1"/>
<path class="b" fill="#00ffff" d="M532.8 508.53L537.2 508.53L537.2 513.51L536.1 515.22L537.2 516.94L537.2 520.36L532.8 520.36L532.8 516.94L533.9 515.22L532.8 513.51Z"/>
<path class="m" d="M533.9 515.22H536.1"/>
<path class="w" d="M540.58 489.8V506.96M540.58 550.49V524.82"/>
<path class="c" d="M539.48 489.8H541.68M539.48 550.49H541.68"/>
<path class="b" fill="#00ffff" d="M538.38 506.96L542.78 506.96L542.78 512.63L541.68 515.22L542.78 517.81L542.78 524.82L538.38 524.82L538.38 517.81L539.48 515.22L538.38 512.63Z"/>
<path class="m" d="M539.48 515.22H541.68"/>
<path class="w" d="M546.16 564V579.6M546.16 605.7V591.7"/>
<path class="c" d="M545.06 564H547.26M545.06 605.7H547.26"/>
<path class="b" fill="#00ffff" d="M543.96 579.6L548.36 579.6L548.36 583.95L547.26 585.7L548.36 587.45L548.36 591.7L543.96 591.7L543.96 587.45L545.06 585.7L543.96 583.95Z"/>
<path class="m" d="M545.06 585.7H547.26"/>
<path class="w" d="M551.74 514.11V527.05M551.74 559.87V541.34"/>
<path class="c" d="M550.64 514.11H552.84M550.64 559.87H552.84"/>
<path class="b" fill="#00ffff" d="M549.54 527.05L553.94 527.05L553.94 534.36L552.84 536.43L553.94 538.5L553.94 541.34L549.54 541.34L549.54 538.5L550.64 536.43L549.54 534.36Z"/>
<path class="m" d="M550.64 536.43H552.84"/>
<path class="w" d="M557.32 464.9V496.92M557.32 586V540.45"/>
<path class="c" d="M556.22 464.9H558.42M556.22 586H558.42"/>
<path class="b" fill="#00ffff" d="M555.12 496.92L559.52 496.92L559.52 512.26L558.42 518.57L559.52 524.88L559.52 540.45L555.12 540.45L555.12 524.88L556.22 518.57L555.12 512.26Z"/>
<path class="m" d="M556.22 518.57H558.42"/>
<path class="w" d="M562.91 585.1V598.4M562.91 619.3V608.5"/>
<path class="c" d="M561.81 585.1H564.01M561.81 619.3H564.01"/>
<path class="b" fill="#00ffff" d="M560.71 598.4L565.11 598.4L565.11 602.24L564.01 603.7L565.11 605.16L565.11 608.5L560.71 608.5L560.71 605.16L561.81 603.7L560.71 602.24Z"/>
<path class="m" d="M561.81 603.7H564.01"/>
<path class="w" d="M568.49 500.27V525.27M568.49 568.79V550.49"/>
<path class="c" d="M567.39 500.27H569.59M567.39 568.79H569.59"/>
<path class="b" fill="#00ffff" d="M566.29 525.27L570.69 525.27L570.69 529.42L569.59 533.08L570.69 536.74L570.69 550.49L566.29 550.49L566.29 536.74L567.39 533.08L566.29 529.42Z"/>
<path class="m" d="M567.39 533.08H569.59"/>
<path class="w" d="M574.07 523.04V538.66M574.07 585.54V564.33"/>
<path class="c" d="M572.97 523.04H575.17M572.97 585.54H575.17"/>
<path class="b" fill="#00ffff" d="M571.87 538.66L576.27 538.66L576.27 548.33L575.17 552.05L576.27 555.78L576.27 564.33L571.87 564.33L571.87 555.78L572.97 552.05L571.87 548.33Z"/>
<path class="m" d="M572.97 552.05H575.17"/>
<path class="w" d="M579.65 476.3V500.71M579.65 538.21V517.01"/>
<path class="c" d="M578.55 476.3H580.75M578.55 538.21H580.75"/>
<path class="b" fill="#00ffff" d="M577.45 500.71L581.85 500.71L581.85 505.72L580.75 508.08L581.85 510.44L581.85 517.01L577.45 517.01L577.45 510.44L578.55 508.08L577.45 505.72Z"/>
<path class="m" d="M578.55 508.08H580.75"/>
<path class="w" d="M585.23 510.76V535.76M585.23 591.12V564.33"/>
<path class="c" d="M584.13 510.76H586.33M584.13 591.12H586.33"/>
<path class="b" fill="#00ffff" d="M583.03 535.76L587.43 535.76L587.43 546.79L586.33 550.94L587.43 555.08L587.43 564.33L583.03 564.33L583.03 555.08L584.13 550.94L583.03 546.79Z"/>
<path class="m" d="M584.13 550.94H586.33"/>
<path class="w" d="M590.82 506.74V528.62M590.82 574.38V549.82"/>
<path class="c" d="M589.72 506.74H591.92M589.72 574.38H591.92"/>
<path class="b" fill="#00ffff" d="M588.62 528.62L593.02 528.62L593.02 534.47L591.92 537.54L593.02 540.62L593.02 549.82L588.62 549.82L588.62 540.62L589.72 537.54L588.62 534.47Z"/>
<path class="m" d="M589.72 537.54H591.92"/>
<path class="w" d="M596.4 487.3V524.82M596.4 575.49V549.82"/>
<path class="c" d="M595.3 487.3H597.5M595.3 575.49H597.5"/>
<path class="b" fill="#00ffff" d="M594.2 524.82L598.6 524.82L598.6 536.15L597.5 539.78L598.6 543.4L598.6 549.82L594.2 549.82L594.2 543.4L595.3 539.78L594.2 536.15Z"/>
<path class="m" d="M595.3 539.78H597.5"/>
<path class="w" d="M601.98 519.24V540.89M601.98 571.47V556.07"/>
<path class="c" d="M600.88 519.24H603.08M600.88 571.47H603.08"/>
<path class="b" fill="#bebebe" d="M599.78 540.89L604.18 540.89L604.18 546.5L603.08 548.71L604.18 550.91L604.18 556.07L599.78 556.07L599.78 550.91L600.88 548.71L599.78 546.5Z"/>
<path class="m" d="M600.88 548.71H603.08"/>
<path class="w" d="M607.56 519.24V542.01M607.56 585.54V560.98"/>
<path class="c" d="M606.46 519.24H608.66M606.46 585.54H608.66"/>
<path class="b" fill="#bebebe" d="M605.36 542.01L609.76 542.01L609.76 548.19L608.66 550.94L609.76 553.69L609.76 560.98L605.36 560.98L605.36 553.69L606.46 550.94L605.36 548.19Z"/>
<path class="m" d="M606.46 550.94H608.66"/>
<path class="w" d="M613.14 529.73V546.47M613.14 574.38V558.3"/>
<path class="c" d="M612.04 529.73H614.24M612.04 574.38H614.24"/>
<path class="b" fill="#bebebe" d="M610.94 546.47L615.34 546.47L615.34 551.01L614.24 552.72L615.34 554.44L615.34 558.3L610.94 558.3L610.94 554.44L612.04 552.72L610.94 551.01Z"/>
<path class="m" d="M612.04 552.72H614.24"/>
<path class="w" d="M618.73 443V480.7M618.73 545.36V515.22"/>
<path class="c" d="M617.63 443H619.83M617.63 545.36H619.83"/>
<path class="b" fill="#bebebe" d="M616.53 480.7L620.93 480.7L620.93 488.79L619.83 493.79L620.93 498.8L620.93 515.22L616.53 515.22L616.53 498.8L617.63 493.79L616.53 488.79Z"/>
<path class="m" d="M617.63 493.79H619.83"/>
<path class="w" d="M624.31 479.2V512.54M624.31 558.75V537.1"/>
<path class="c" d="M623.21 479.2H625.41M623.21 558.75H625.41"/>
<path class="b" fill="#bebebe" d="M622.11 512.54L626.51 512.54L626.51 524.61L625.41 528.17L626.51 531.73L626.51 537.1L622.11 537.1L622.11 531.73L623.21 528.17L622.11 524.61Z"/>
<path class="m" d="M623.21 528.17H625.41"/>
<path class="w" d="M629.89 477.2V514.78M629.89 558.75V543.12"/>
<path class="c" d="M628.79 477.2H630.99M628.79 558.75H630.99"/>
<path class="b" fill="#bebebe" d="M627.69 514.78L632.09 514.78L632.09 522.94L630.99 527.05L632.09 531.16L632.09 543.12L627.69 543.12L627.69 531.16L628.79 527.05L627.69 522.94Z"/>
<path class="m" d="M628.79 527.05H630.99"/>
<path class="w" d="M635.47 466.7V515.22M635.47 562.77V548.04"/>
<path class="c" d="M634.37 466.7H636.57M634.37 562.77H636.57"/>
<path class="b" fill="#bebebe" d="M633.27 515.22L637.67 515.22L637.67 529.44L636.57 534.2L637.67 538.95L637.67 548.04L633.27 548.04L633.27 538.95L634.37 534.2L633.27 529.44Z"/>
<path class="m" d="M634.37 534.2H636.57"/>
<path class="w" d="M641.05 454.4V493.7M641.05 559.87V544.91"/>
<path class="c" d="M639.95 454.4H642.15M639.95 559.87H642.15"/>
<path class="b" fill="#bebebe" d="M638.85 493.7L643.25 493.7L643.25 511.15L642.15 518.57L643.25 526L643.25 544.91L638.85 544.91L638.85 526L639.95 518.57L638.85 511.15Z"/>
<path class="m" d="M639.95 518.57H642.15"/>
<path class="w" d="M646.64 504.06V533.08M646.64 571.7V560.54"/>
<path class="c" d="M645.54 504.06H647.74M645.54 571.7H647.74"/>
<path class="b" fill="#bebebe" d="M644.44 533.08L648.84 533.08L648.84 541.38L647.74 545.36L648.84 549.34L648.84 560.54L644.44 560.54L644.44 549.34L645.54 545.36L644.44 541.38Z"/>
<path class="m" d="M645.54 545.36H647.74"/>
<path class="w" d="M652.22 523.04V543.57M652.22 573.26V560.98"/>
<path class="c" d="M651.12 523.04H653.32M651.12 573.26H653.32"/>
<path class="b" fill="#bebebe" d="M650.02 543.57L654.42 543.57L654.42 550.65L653.32 553.17L654.42 555.69L654.42 560.98L650.02 560.98L650.02 555.69L651.12 553.17L650.02 550.65Z"/>
<path class="m" d="M651.12 553.17H653.32"/>
<path class="w" d="M657.8 509.2V524.15M657.8 560.98V542.01"/>
<path class="c" d="M656.7 509.2H658.9M656.7 560.98H658.9"/>
<path class="b" fill="#bebebe" d="M655.6 524.15L660 524.15L660 533.39L658.9 535.98L660 538.57L660 542.01L655.6 542.01L655.6 538.57L656.7 535.98L655.6 533.39Z"/>
<path class="m" d="M656.7 535.98H658.9"/>
<path class="bx" d="M74.2 357.7H683V622.4"/>
<path class="ax" d="M74.2 357.7V622.4H683M74.2 622.4H67.2M74.2 578.28H67.2M74.2 534.17H67.2M74.2 490.05H67.2M74.2 445.93H67.2M74.2 401.82H67.2M74.2 357.7H67.2M99.6 622.4V629.2M105.18 622.4V629.2M110.76 622.4V629.2M116.35 622.4V629.2M121.93 622.4V629.2M127.51 622.4V629.2M133.09 622.4V629.2M138.67 622.4V629.2M144.26 622.4V629.2M149.84 622.4V629.2M155.42 622.4V629.2M161 622.4V629.2M166.58 622.4V629.2M172.17 622.4V629.2M177.75 622.4V629.2M183.33 622.4V629.2M188.91 622.4V629.2M194.49 622.4V629.2M200.08 622.4V629.2M205.66 622.4V629.2M211.24 622.4V629.2M216.82 622.4V629.2M222.4 622.4V629.2M227.99 622.4V629.2M233.57 622.4V629.2M239.15 622.4V629.2M244.73 622.4V629.2M250.31 622.4V629.2M255.9 622.4V629.2M261.48 622.4V629.2M267.06 622.4V629.2M272.64 622.4V629.2M278.22 622.4V629.2M283.81 622.4V629.2M289.39 622.4V629.2M294.97 622.4V629.2M300.55 622.4V629.2M306.13 622.4V629.2M311.72 622.4V629.2M317.3 622.4V629.2M322.88 622.4V629.2M328.46 622.4V629.2M334.04 622.4V629.2M339.63 622.4V629.2M345.21 622.4V629.2M350.79 622.4V629.2M356.37 622.4V629.2M361.95 622.4V629.2M367.54 622.4V629.2M373.12 622.4V629.2M378.7 622.4V629.2M384.28 622.4V629.2M389.86 622.4V629.2M395.45 622.4V629.2M401.03 622.4V629.2M406.61 622.4V629.2M412.19 622.4V629.2M417.77 622.4V629.2M423.36 622.4V629.2M428.94 622.4V629.2M434.52 622.4V629.2M440.1 622.4V629.2M445.68 622.4V629.2M451.27 622.4V629.2M456.85 622.4V629.2M462.43 622.4V629.2M468.01 622.4V629.2M473.59 622.4V629.2M479.18 622.4V629.2M484.76 622.4V629.2M490.34 622.4V629.2M495.92 622.4V629.2M501.5 622.4V629.2M507.09 622.4V629.2M512.67 622.4V629.2M518.25 622.4V629.2M523.83 622.4V629.2M529.41 622.4V629.2M535 622.4V629.2M540.58 622.4V629.2M546.16 622.4V629.2M551.74 622.4V629.2M557.32 622.4V629.2M562.91 622.4V629.2M568.49 622.4V629.2M574.07 622.4V629.2M579.65 622.4V629.2M585.23 622.4V629.2M590.82 622.4V629.2M596.4 622.4V629.2M601.98 622.4V629.2M607.56 622.4V629.2M613.14 622.4V629.2M618.73 622.4V629.2M624.31 622.4V629.2M629.89 622.4V629.2M635.47 622.4V629.2M641.05 622.4V629.2M646.64 622.4V629.2M652.22 622.4V629.2M657.8 622.4V629.2"/>
<text class="t" transform="translate(61.3 629.2) scale(0.975 0.97)" text-anchor="end">0.05</text>
<text class="t" transform="translate(61.3 585.08) scale(0.975 0.97)" text-anchor="end">0.10</text>
<text class="t" transform="translate(61.3 540.97) scale(0.975 0.97)" text-anchor="end">0.15</text>
<text class="t" transform="translate(61.3 496.85) scale(0.975 0.97)" text-anchor="end">0.20</text>
<text class="t" transform="translate(61.3 452.73) scale(0.975 0.97)" text-anchor="end">0.25</text>
<text class="t" transform="translate(61.3 408.62) scale(0.975 0.97)" text-anchor="end">0.30</text>
<text class="t" transform="translate(61.3 364.5) scale(0.975 0.97)" text-anchor="end">0.35</text>
<text class="t" transform="translate(99.6 646.5) scale(0.975 1.0)" text-anchor="middle">1</text>
<text class="t" transform="translate(121.93 646.5) scale(0.975 1.0)" text-anchor="middle">5</text>
<text class="t" transform="translate(144.26 646.5) scale(0.975 1.0)" text-anchor="middle">9</text>
<text class="t" transform="translate(172.17 646.5) scale(0.975 1.0)" text-anchor="middle">14</text>
<text class="t" transform="translate(205.66 646.5) scale(0.975 1.0)" text-anchor="middle">20</text>
<text class="t" transform="translate(239.15 646.5) scale(0.975 1.0)" text-anchor="middle">26</text>
<text class="t" transform="translate(272.64 646.5) scale(0.975 1.0)" text-anchor="middle">32</text>
<text class="t" transform="translate(306.13 646.5) scale(0.975 1.0)" text-anchor="middle">38</text>
<text class="t" transform="translate(339.63 646.5) scale(0.975 1.0)" text-anchor="middle">44</text>
<text class="t" transform="translate(373.12 646.5) scale(0.975 1.0)" text-anchor="middle">50</text>
<text class="t" transform="translate(406.61 646.5) scale(0.975 1.0)" text-anchor="middle">56</text>
<text class="t" transform="translate(440.1 646.5) scale(0.975 1.0)" text-anchor="middle">62</text>
<text class="t" transform="translate(473.59 646.5) scale(0.975 1.0)" text-anchor="middle">68</text>
<text class="t" transform="translate(507.09 646.5) scale(0.975 1.0)" text-anchor="middle">74</text>
<text class="t" transform="translate(540.58 646.5) scale(0.975 1.0)" text-anchor="middle">80</text>
<text class="t" transform="translate(574.07 646.5) scale(0.975 1.0)" text-anchor="middle">86</text>
<text class="t" transform="translate(607.56 646.5) scale(0.975 1.0)" text-anchor="middle">92</text>
<text class="t" transform="translate(641.05 646.5) scale(0.975 1.0)" text-anchor="middle">98</text>
</g>
<text class="tb" transform="translate(68.3 14.2) scale(1.065 1.044)">(a)</text>
<text class="tb" transform="translate(68.3 348.4) scale(1.065 1.044)">(b)</text>
<text class="tb" transform="translate(16.3 154.3) rotate(-90) scale(0.985 1)" text-anchor="middle">Leaf dry mass per unit area (g/m<tspan dy="-7.4" font-size="11">2</tspan><tspan dy="7.4">)</tspan></text>
<text class="tb" transform="translate(16.3 489.4) rotate(-90) scale(0.973 1)" text-anchor="middle">Quotient of leaf width and length</text>
<text class="tb" transform="translate(378.5 666.9) scale(0.977 1.044)" text-anchor="middle">Species code</text>
</svg>
</body></html>
